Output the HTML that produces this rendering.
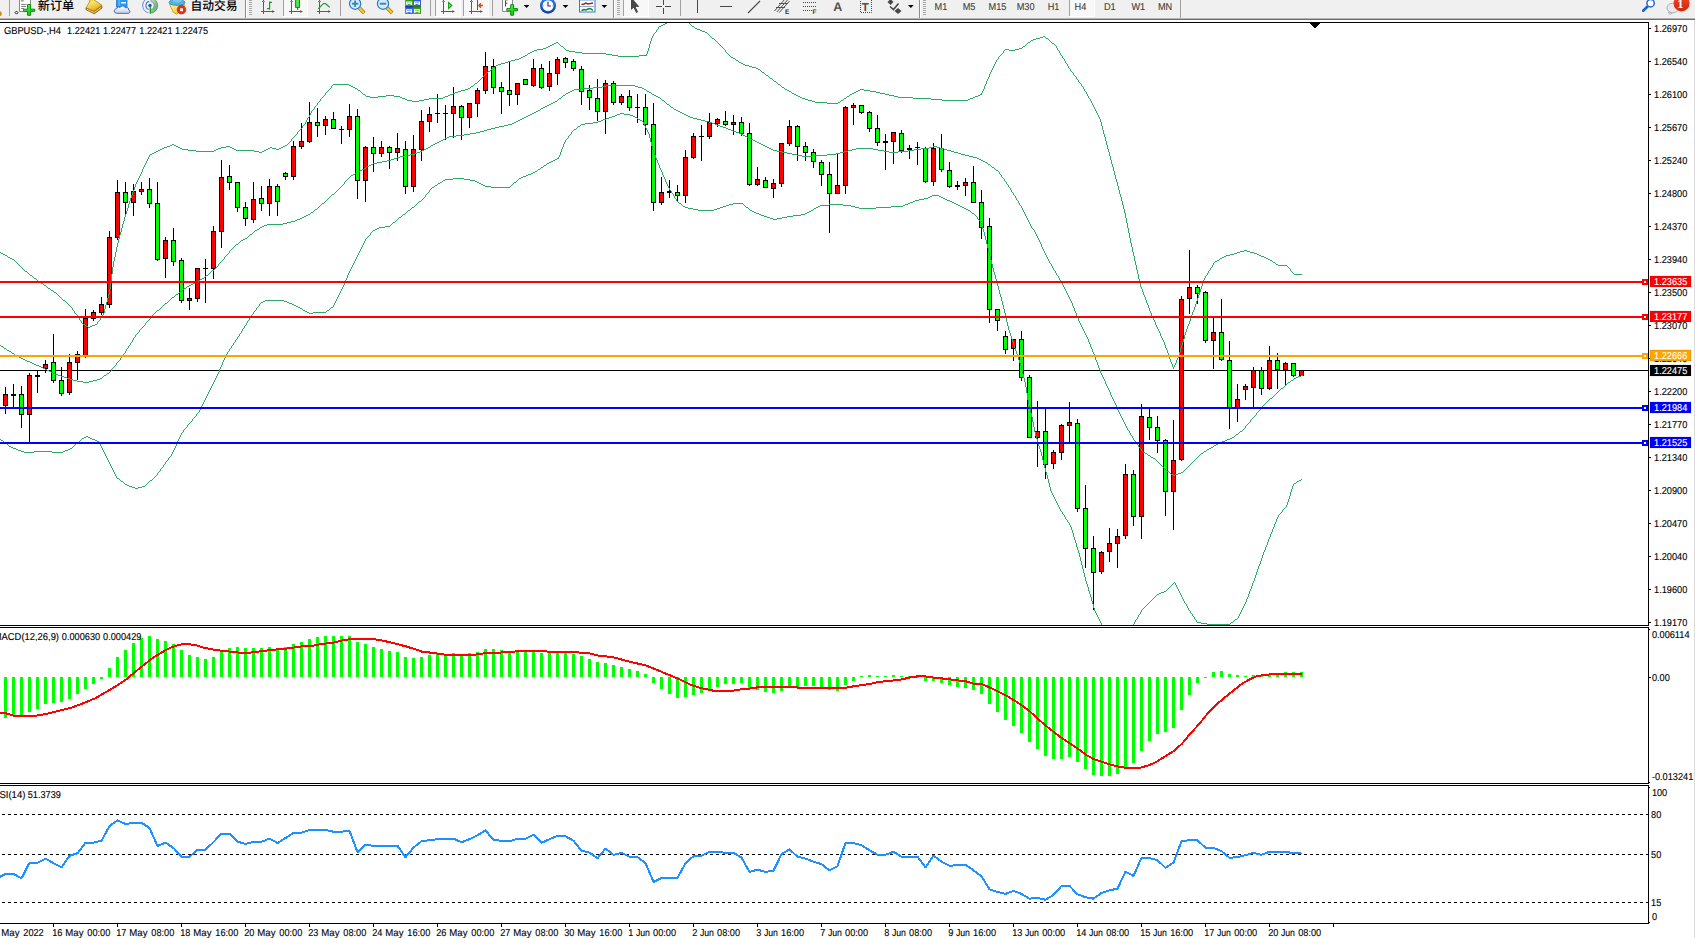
<!DOCTYPE html>
<html><head><meta charset="utf-8"><title>GBPUSD-,H4</title>
<style>
html,body{margin:0;padding:0;background:#fff;overflow:hidden}
svg{display:block;position:absolute;left:0;top:0}
text{white-space:pre;text-rendering:geometricPrecision}
</style></head>
<body>
<svg width="1695" height="938" viewBox="0 0 1695 938" shape-rendering="crispEdges">
<defs>
<clipPath id="cpMain"><rect x="0" y="23" width="1648" height="602"/></clipPath>
<clipPath id="cpMacd"><rect x="0" y="628" width="1648" height="155"/></clipPath>
<clipPath id="cpRsi"><rect x="0" y="786" width="1648" height="137"/></clipPath>
</defs>
<rect x="0" y="0" width="1695" height="938" fill="#fff"/>
<rect x="1694" y="20" width="1" height="918" fill="#dcdcdc"/>
<g clip-path="url(#cpMain)">
<rect x="0" y="370" width="1648" height="1" fill="#000"/>
<g fill="#000"><rect x="5" y="387" width="1" height="27"/><rect x="3" y="394" width="5" height="12"/><rect x="4" y="395" width="3" height="10" fill="#ff0000"/><rect x="13" y="384" width="1" height="23"/><rect x="11" y="394" width="5" height="2"/><rect x="21" y="386" width="1" height="42"/><rect x="19" y="394" width="5" height="21"/><rect x="20" y="395" width="3" height="19" fill="#00ff00"/><rect x="29" y="373" width="1" height="70"/><rect x="27" y="375" width="5" height="40"/><rect x="28" y="376" width="3" height="38" fill="#ff0000"/><rect x="37" y="370" width="1" height="23"/><rect x="35" y="375" width="5" height="2"/><rect x="45" y="360" width="1" height="13"/><rect x="43" y="364" width="5" height="5"/><rect x="44" y="365" width="3" height="3" fill="#ff0000"/><rect x="53" y="334" width="1" height="49"/><rect x="51" y="362" width="5" height="19"/><rect x="52" y="363" width="3" height="17" fill="#00ff00"/><rect x="61" y="367" width="1" height="29"/><rect x="59" y="380" width="5" height="14"/><rect x="60" y="381" width="3" height="12" fill="#00ff00"/><rect x="69" y="354" width="1" height="41"/><rect x="67" y="362" width="5" height="31"/><rect x="68" y="363" width="3" height="29" fill="#ff0000"/><rect x="77" y="351" width="1" height="29"/><rect x="75" y="354" width="5" height="9"/><rect x="76" y="355" width="3" height="7" fill="#ff0000"/><rect x="85" y="309" width="1" height="49"/><rect x="83" y="318" width="5" height="38"/><rect x="84" y="319" width="3" height="36" fill="#ff0000"/><rect x="93" y="310" width="1" height="11"/><rect x="91" y="312" width="5" height="7"/><rect x="92" y="313" width="3" height="5" fill="#ff0000"/><rect x="101" y="297" width="1" height="18"/><rect x="99" y="304" width="5" height="9"/><rect x="100" y="305" width="3" height="7" fill="#ff0000"/><rect x="109" y="231" width="1" height="77"/><rect x="107" y="237" width="5" height="68"/><rect x="108" y="238" width="3" height="66" fill="#ff0000"/><rect x="117" y="180" width="1" height="60"/><rect x="115" y="192" width="5" height="46"/><rect x="116" y="193" width="3" height="44" fill="#ff0000"/><rect x="125" y="182" width="1" height="33"/><rect x="123" y="192" width="5" height="11"/><rect x="124" y="193" width="3" height="9" fill="#00ff00"/><rect x="133" y="184" width="1" height="32"/><rect x="131" y="191" width="5" height="12"/><rect x="132" y="192" width="3" height="10" fill="#ff0000"/><rect x="141" y="182" width="1" height="13"/><rect x="139" y="189" width="5" height="3"/><rect x="140" y="190" width="3" height="1" fill="#ff0000"/><rect x="149" y="178" width="1" height="30"/><rect x="147" y="189" width="5" height="15"/><rect x="148" y="190" width="3" height="13" fill="#00ff00"/><rect x="157" y="182" width="1" height="79"/><rect x="155" y="203" width="5" height="57"/><rect x="156" y="204" width="3" height="55" fill="#00ff00"/><rect x="165" y="237" width="1" height="41"/><rect x="163" y="240" width="5" height="19"/><rect x="164" y="241" width="3" height="17" fill="#ff0000"/><rect x="173" y="228" width="1" height="38"/><rect x="171" y="240" width="5" height="22"/><rect x="172" y="241" width="3" height="20" fill="#00ff00"/><rect x="181" y="258" width="1" height="45"/><rect x="179" y="260" width="5" height="41"/><rect x="180" y="261" width="3" height="39" fill="#00ff00"/><rect x="189" y="288" width="1" height="22"/><rect x="187" y="298" width="5" height="3"/><rect x="188" y="299" width="3" height="1" fill="#ff0000"/><rect x="197" y="268" width="1" height="34"/><rect x="195" y="268" width="5" height="31"/><rect x="196" y="269" width="3" height="29" fill="#ff0000"/><rect x="205" y="259" width="1" height="44"/><rect x="203" y="268" width="5" height="1"/><rect x="213" y="226" width="1" height="53"/><rect x="211" y="231" width="5" height="38"/><rect x="212" y="232" width="3" height="36" fill="#ff0000"/><rect x="221" y="160" width="1" height="88"/><rect x="219" y="177" width="5" height="55"/><rect x="220" y="178" width="3" height="53" fill="#ff0000"/><rect x="229" y="165" width="1" height="25"/><rect x="227" y="176" width="5" height="7"/><rect x="228" y="177" width="3" height="5" fill="#00ff00"/><rect x="237" y="182" width="1" height="30"/><rect x="235" y="182" width="5" height="26"/><rect x="236" y="183" width="3" height="24" fill="#00ff00"/><rect x="245" y="202" width="1" height="24"/><rect x="243" y="207" width="5" height="12"/><rect x="244" y="208" width="3" height="10" fill="#00ff00"/><rect x="253" y="182" width="1" height="41"/><rect x="251" y="199" width="5" height="21"/><rect x="252" y="200" width="3" height="19" fill="#ff0000"/><rect x="261" y="186" width="1" height="25"/><rect x="259" y="198" width="5" height="6"/><rect x="260" y="199" width="3" height="4" fill="#00ff00"/><rect x="269" y="179" width="1" height="37"/><rect x="267" y="186" width="5" height="18"/><rect x="268" y="187" width="3" height="16" fill="#ff0000"/><rect x="277" y="184" width="1" height="32"/><rect x="275" y="186" width="5" height="16"/><rect x="276" y="187" width="3" height="14" fill="#00ff00"/><rect x="285" y="172" width="1" height="8"/><rect x="283" y="173" width="5" height="4"/><rect x="284" y="174" width="3" height="2" fill="#00ff00"/><rect x="293" y="141" width="1" height="39"/><rect x="291" y="146" width="5" height="31"/><rect x="292" y="147" width="3" height="29" fill="#ff0000"/><rect x="301" y="123" width="1" height="26"/><rect x="299" y="141" width="5" height="6"/><rect x="300" y="142" width="3" height="4" fill="#ff0000"/><rect x="309" y="102" width="1" height="41"/><rect x="307" y="122" width="5" height="20"/><rect x="308" y="123" width="3" height="18" fill="#ff0000"/><rect x="317" y="108" width="1" height="29"/><rect x="315" y="122" width="5" height="4"/><rect x="316" y="123" width="3" height="2" fill="#00ff00"/><rect x="325" y="116" width="1" height="19"/><rect x="323" y="119" width="5" height="7"/><rect x="324" y="120" width="3" height="5" fill="#ff0000"/><rect x="333" y="112" width="1" height="17"/><rect x="331" y="119" width="5" height="10"/><rect x="332" y="120" width="3" height="8" fill="#00ff00"/><rect x="341" y="126" width="1" height="18"/><rect x="339" y="129" width="5" height="1"/><rect x="349" y="104" width="1" height="33"/><rect x="347" y="116" width="5" height="14"/><rect x="348" y="117" width="3" height="12" fill="#ff0000"/><rect x="357" y="109" width="1" height="90"/><rect x="355" y="116" width="5" height="65"/><rect x="356" y="117" width="3" height="63" fill="#00ff00"/><rect x="365" y="146" width="1" height="56"/><rect x="363" y="147" width="5" height="34"/><rect x="364" y="148" width="3" height="32" fill="#ff0000"/><rect x="373" y="137" width="1" height="35"/><rect x="371" y="147" width="5" height="7"/><rect x="372" y="148" width="3" height="5" fill="#00ff00"/><rect x="381" y="141" width="1" height="16"/><rect x="379" y="147" width="5" height="7"/><rect x="380" y="148" width="3" height="5" fill="#ff0000"/><rect x="389" y="146" width="1" height="23"/><rect x="387" y="147" width="5" height="6"/><rect x="388" y="148" width="3" height="4" fill="#00ff00"/><rect x="397" y="133" width="1" height="28"/><rect x="395" y="148" width="5" height="5"/><rect x="396" y="149" width="3" height="3" fill="#ff0000"/><rect x="405" y="141" width="1" height="53"/><rect x="403" y="149" width="5" height="38"/><rect x="404" y="150" width="3" height="36" fill="#00ff00"/><rect x="413" y="135" width="1" height="57"/><rect x="411" y="149" width="5" height="38"/><rect x="412" y="150" width="3" height="36" fill="#ff0000"/><rect x="421" y="110" width="1" height="51"/><rect x="419" y="121" width="5" height="29"/><rect x="420" y="122" width="3" height="27" fill="#ff0000"/><rect x="429" y="107" width="1" height="25"/><rect x="427" y="114" width="5" height="8"/><rect x="428" y="115" width="3" height="6" fill="#ff0000"/><rect x="437" y="94" width="1" height="29"/><rect x="435" y="113" width="5" height="1"/><rect x="445" y="105" width="1" height="35"/><rect x="443" y="113" width="5" height="1"/><rect x="453" y="87" width="1" height="51"/><rect x="451" y="106" width="5" height="8"/><rect x="452" y="107" width="3" height="6" fill="#ff0000"/><rect x="461" y="105" width="1" height="35"/><rect x="459" y="106" width="5" height="12"/><rect x="460" y="107" width="3" height="10" fill="#00ff00"/><rect x="469" y="103" width="1" height="25"/><rect x="467" y="103" width="5" height="15"/><rect x="468" y="104" width="3" height="13" fill="#ff0000"/><rect x="477" y="88" width="1" height="29"/><rect x="475" y="90" width="5" height="14"/><rect x="476" y="91" width="3" height="12" fill="#ff0000"/><rect x="485" y="52" width="1" height="42"/><rect x="483" y="66" width="5" height="25"/><rect x="484" y="67" width="3" height="23" fill="#ff0000"/><rect x="493" y="59" width="1" height="35"/><rect x="491" y="66" width="5" height="22"/><rect x="492" y="67" width="3" height="20" fill="#00ff00"/><rect x="501" y="82" width="1" height="32"/><rect x="499" y="87" width="5" height="5"/><rect x="500" y="88" width="3" height="3" fill="#00ff00"/><rect x="509" y="62" width="1" height="44"/><rect x="507" y="90" width="5" height="5"/><rect x="508" y="91" width="3" height="3" fill="#00ff00"/><rect x="517" y="83" width="1" height="22"/><rect x="515" y="83" width="5" height="12"/><rect x="516" y="84" width="3" height="10" fill="#ff0000"/><rect x="525" y="79" width="1" height="6"/><rect x="523" y="79" width="5" height="6"/><rect x="524" y="80" width="3" height="4" fill="#00ff00"/><rect x="533" y="59" width="1" height="28"/><rect x="531" y="68" width="5" height="18"/><rect x="532" y="69" width="3" height="16" fill="#ff0000"/><rect x="541" y="64" width="1" height="25"/><rect x="539" y="68" width="5" height="20"/><rect x="540" y="69" width="3" height="18" fill="#00ff00"/><rect x="549" y="61" width="1" height="30"/><rect x="547" y="73" width="5" height="14"/><rect x="548" y="74" width="3" height="12" fill="#ff0000"/><rect x="557" y="57" width="1" height="28"/><rect x="555" y="59" width="5" height="15"/><rect x="556" y="60" width="3" height="13" fill="#ff0000"/><rect x="565" y="57" width="1" height="11"/><rect x="563" y="58" width="5" height="5"/><rect x="564" y="59" width="3" height="3" fill="#00ff00"/><rect x="573" y="59" width="1" height="12"/><rect x="571" y="61" width="5" height="8"/><rect x="572" y="62" width="3" height="6" fill="#00ff00"/><rect x="581" y="66" width="1" height="39"/><rect x="579" y="69" width="5" height="23"/><rect x="580" y="70" width="3" height="21" fill="#00ff00"/><rect x="589" y="85" width="1" height="25"/><rect x="587" y="90" width="5" height="8"/><rect x="588" y="91" width="3" height="6" fill="#00ff00"/><rect x="597" y="79" width="1" height="42"/><rect x="595" y="98" width="5" height="14"/><rect x="596" y="99" width="3" height="12" fill="#00ff00"/><rect x="605" y="80" width="1" height="54"/><rect x="603" y="83" width="5" height="29"/><rect x="604" y="84" width="3" height="27" fill="#ff0000"/><rect x="613" y="81" width="1" height="24"/><rect x="611" y="83" width="5" height="20"/><rect x="612" y="84" width="3" height="18" fill="#00ff00"/><rect x="621" y="94" width="1" height="11"/><rect x="619" y="96" width="5" height="7"/><rect x="620" y="97" width="3" height="5" fill="#ff0000"/><rect x="629" y="90" width="1" height="21"/><rect x="627" y="96" width="5" height="12"/><rect x="628" y="97" width="3" height="10" fill="#00ff00"/><rect x="637" y="94" width="1" height="29"/><rect x="635" y="107" width="5" height="1"/><rect x="645" y="94" width="1" height="41"/><rect x="643" y="107" width="5" height="18"/><rect x="644" y="108" width="3" height="16" fill="#00ff00"/><rect x="653" y="103" width="1" height="108"/><rect x="651" y="124" width="5" height="79"/><rect x="652" y="125" width="3" height="77" fill="#00ff00"/><rect x="661" y="177" width="1" height="28"/><rect x="659" y="192" width="5" height="11"/><rect x="660" y="193" width="3" height="9" fill="#ff0000"/><rect x="669" y="180" width="1" height="18"/><rect x="667" y="191" width="5" height="2"/><rect x="677" y="185" width="1" height="16"/><rect x="675" y="192" width="5" height="4"/><rect x="676" y="193" width="3" height="2" fill="#00ff00"/><rect x="685" y="150" width="1" height="53"/><rect x="683" y="157" width="5" height="39"/><rect x="684" y="158" width="3" height="37" fill="#ff0000"/><rect x="693" y="133" width="1" height="26"/><rect x="691" y="136" width="5" height="22"/><rect x="692" y="137" width="3" height="20" fill="#ff0000"/><rect x="701" y="125" width="1" height="36"/><rect x="699" y="136" width="5" height="1"/><rect x="709" y="113" width="1" height="26"/><rect x="707" y="122" width="5" height="15"/><rect x="708" y="123" width="3" height="13" fill="#ff0000"/><rect x="717" y="118" width="1" height="9"/><rect x="715" y="119" width="5" height="5"/><rect x="716" y="120" width="3" height="3" fill="#ff0000"/><rect x="725" y="111" width="1" height="15"/><rect x="723" y="121" width="5" height="4"/><rect x="724" y="122" width="3" height="2" fill="#00ff00"/><rect x="733" y="115" width="1" height="20"/><rect x="731" y="122" width="5" height="3"/><rect x="732" y="123" width="3" height="1" fill="#ff0000"/><rect x="741" y="117" width="1" height="19"/><rect x="739" y="122" width="5" height="12"/><rect x="740" y="123" width="3" height="10" fill="#00ff00"/><rect x="749" y="123" width="1" height="63"/><rect x="747" y="133" width="5" height="52"/><rect x="748" y="134" width="3" height="50" fill="#00ff00"/><rect x="757" y="167" width="1" height="19"/><rect x="755" y="179" width="5" height="6"/><rect x="756" y="180" width="3" height="4" fill="#ff0000"/><rect x="765" y="177" width="1" height="11"/><rect x="763" y="180" width="5" height="8"/><rect x="764" y="181" width="3" height="6" fill="#00ff00"/><rect x="773" y="179" width="1" height="19"/><rect x="771" y="183" width="5" height="6"/><rect x="772" y="184" width="3" height="4" fill="#ff0000"/><rect x="781" y="143" width="1" height="44"/><rect x="779" y="143" width="5" height="41"/><rect x="780" y="144" width="3" height="39" fill="#ff0000"/><rect x="789" y="120" width="1" height="26"/><rect x="787" y="126" width="5" height="18"/><rect x="788" y="127" width="3" height="16" fill="#ff0000"/><rect x="797" y="125" width="1" height="36"/><rect x="795" y="126" width="5" height="21"/><rect x="796" y="127" width="3" height="19" fill="#00ff00"/><rect x="805" y="142" width="1" height="19"/><rect x="803" y="146" width="5" height="7"/><rect x="804" y="147" width="3" height="5" fill="#00ff00"/><rect x="813" y="149" width="1" height="19"/><rect x="811" y="152" width="5" height="10"/><rect x="812" y="153" width="3" height="8" fill="#00ff00"/><rect x="821" y="160" width="1" height="26"/><rect x="819" y="162" width="5" height="13"/><rect x="820" y="163" width="3" height="11" fill="#00ff00"/><rect x="829" y="162" width="1" height="71"/><rect x="827" y="174" width="5" height="20"/><rect x="828" y="175" width="3" height="18" fill="#00ff00"/><rect x="837" y="154" width="1" height="40"/><rect x="835" y="185" width="5" height="9"/><rect x="836" y="186" width="3" height="7" fill="#ff0000"/><rect x="845" y="106" width="1" height="88"/><rect x="843" y="107" width="5" height="79"/><rect x="844" y="108" width="3" height="77" fill="#ff0000"/><rect x="853" y="103" width="1" height="22"/><rect x="851" y="105" width="5" height="3"/><rect x="852" y="106" width="3" height="1" fill="#ff0000"/><rect x="861" y="105" width="1" height="9"/><rect x="859" y="105" width="5" height="8"/><rect x="860" y="106" width="3" height="6" fill="#00ff00"/><rect x="869" y="111" width="1" height="21"/><rect x="867" y="112" width="5" height="17"/><rect x="868" y="113" width="3" height="15" fill="#00ff00"/><rect x="877" y="115" width="1" height="31"/><rect x="875" y="128" width="5" height="15"/><rect x="876" y="129" width="3" height="13" fill="#00ff00"/><rect x="885" y="134" width="1" height="36"/><rect x="883" y="141" width="5" height="2"/><rect x="893" y="132" width="1" height="32"/><rect x="891" y="132" width="5" height="10"/><rect x="892" y="133" width="3" height="8" fill="#ff0000"/><rect x="901" y="130" width="1" height="23"/><rect x="899" y="133" width="5" height="18"/><rect x="900" y="134" width="3" height="16" fill="#00ff00"/><rect x="909" y="145" width="1" height="14"/><rect x="907" y="148" width="5" height="2"/><rect x="917" y="142" width="1" height="23"/><rect x="915" y="147" width="5" height="1"/><rect x="925" y="147" width="1" height="36"/><rect x="923" y="148" width="5" height="34"/><rect x="924" y="149" width="3" height="32" fill="#00ff00"/><rect x="933" y="143" width="1" height="43"/><rect x="931" y="148" width="5" height="34"/><rect x="932" y="149" width="3" height="32" fill="#ff0000"/><rect x="941" y="134" width="1" height="38"/><rect x="939" y="148" width="5" height="22"/><rect x="940" y="149" width="3" height="20" fill="#00ff00"/><rect x="949" y="162" width="1" height="26"/><rect x="947" y="170" width="5" height="17"/><rect x="948" y="171" width="3" height="15" fill="#00ff00"/><rect x="957" y="181" width="1" height="9"/><rect x="955" y="185" width="5" height="2"/><rect x="965" y="178" width="1" height="18"/><rect x="963" y="182" width="5" height="4"/><rect x="964" y="183" width="3" height="2" fill="#ff0000"/><rect x="973" y="166" width="1" height="37"/><rect x="971" y="182" width="5" height="21"/><rect x="972" y="183" width="3" height="19" fill="#00ff00"/><rect x="981" y="190" width="1" height="49"/><rect x="979" y="202" width="5" height="26"/><rect x="980" y="203" width="3" height="24" fill="#00ff00"/><rect x="989" y="218" width="1" height="105"/><rect x="987" y="226" width="5" height="84"/><rect x="988" y="227" width="3" height="82" fill="#00ff00"/><rect x="997" y="309" width="1" height="22"/><rect x="995" y="309" width="5" height="12"/><rect x="996" y="310" width="3" height="10" fill="#00ff00"/><rect x="1005" y="331" width="1" height="23"/><rect x="1003" y="336" width="5" height="14"/><rect x="1004" y="337" width="3" height="12" fill="#00ff00"/><rect x="1013" y="339" width="1" height="22"/><rect x="1011" y="339" width="5" height="10"/><rect x="1012" y="340" width="3" height="8" fill="#ff0000"/><rect x="1021" y="331" width="1" height="50"/><rect x="1019" y="339" width="5" height="39"/><rect x="1020" y="340" width="3" height="37" fill="#00ff00"/><rect x="1029" y="375" width="1" height="63"/><rect x="1027" y="377" width="5" height="61"/><rect x="1028" y="378" width="3" height="59" fill="#00ff00"/><rect x="1037" y="401" width="1" height="66"/><rect x="1035" y="431" width="5" height="7"/><rect x="1036" y="432" width="3" height="5" fill="#ff0000"/><rect x="1045" y="408" width="1" height="71"/><rect x="1043" y="431" width="5" height="34"/><rect x="1044" y="432" width="3" height="32" fill="#00ff00"/><rect x="1053" y="450" width="1" height="19"/><rect x="1051" y="452" width="5" height="12"/><rect x="1052" y="453" width="3" height="10" fill="#ff0000"/><rect x="1061" y="424" width="1" height="36"/><rect x="1059" y="425" width="5" height="28"/><rect x="1060" y="426" width="3" height="26" fill="#ff0000"/><rect x="1069" y="402" width="1" height="42"/><rect x="1067" y="422" width="5" height="4"/><rect x="1068" y="423" width="3" height="2" fill="#ff0000"/><rect x="1077" y="419" width="1" height="93"/><rect x="1075" y="423" width="5" height="86"/><rect x="1076" y="424" width="3" height="84" fill="#00ff00"/><rect x="1085" y="485" width="1" height="83"/><rect x="1083" y="508" width="5" height="41"/><rect x="1084" y="509" width="3" height="39" fill="#00ff00"/><rect x="1093" y="536" width="1" height="74"/><rect x="1091" y="548" width="5" height="25"/><rect x="1092" y="549" width="3" height="23" fill="#00ff00"/><rect x="1101" y="551" width="1" height="23"/><rect x="1099" y="552" width="5" height="20"/><rect x="1100" y="553" width="3" height="18" fill="#ff0000"/><rect x="1109" y="528" width="1" height="34"/><rect x="1107" y="543" width="5" height="9"/><rect x="1108" y="544" width="3" height="7" fill="#ff0000"/><rect x="1117" y="529" width="1" height="39"/><rect x="1115" y="536" width="5" height="8"/><rect x="1116" y="537" width="3" height="6" fill="#ff0000"/><rect x="1125" y="464" width="1" height="75"/><rect x="1123" y="474" width="5" height="62"/><rect x="1124" y="475" width="3" height="60" fill="#ff0000"/><rect x="1133" y="470" width="1" height="56"/><rect x="1131" y="474" width="5" height="43"/><rect x="1132" y="475" width="3" height="41" fill="#00ff00"/><rect x="1141" y="404" width="1" height="135"/><rect x="1139" y="416" width="5" height="101"/><rect x="1140" y="417" width="3" height="99" fill="#ff0000"/><rect x="1149" y="407" width="1" height="33"/><rect x="1147" y="417" width="5" height="11"/><rect x="1148" y="418" width="3" height="9" fill="#00ff00"/><rect x="1157" y="416" width="1" height="37"/><rect x="1155" y="427" width="5" height="14"/><rect x="1156" y="428" width="3" height="12" fill="#00ff00"/><rect x="1165" y="439" width="1" height="77"/><rect x="1163" y="440" width="5" height="52"/><rect x="1164" y="441" width="3" height="50" fill="#00ff00"/><rect x="1173" y="420" width="1" height="110"/><rect x="1171" y="460" width="5" height="32"/><rect x="1172" y="461" width="3" height="30" fill="#ff0000"/><rect x="1181" y="296" width="1" height="165"/><rect x="1179" y="299" width="5" height="161"/><rect x="1180" y="300" width="3" height="159" fill="#ff0000"/><rect x="1189" y="250" width="1" height="64"/><rect x="1187" y="287" width="5" height="12"/><rect x="1188" y="288" width="3" height="10" fill="#ff0000"/><rect x="1197" y="285" width="1" height="19"/><rect x="1195" y="287" width="5" height="7"/><rect x="1196" y="288" width="3" height="5" fill="#00ff00"/><rect x="1205" y="291" width="1" height="52"/><rect x="1203" y="292" width="5" height="49"/><rect x="1204" y="293" width="3" height="47" fill="#00ff00"/><rect x="1213" y="318" width="1" height="51"/><rect x="1211" y="332" width="5" height="9"/><rect x="1212" y="333" width="3" height="7" fill="#ff0000"/><rect x="1221" y="299" width="1" height="62"/><rect x="1219" y="332" width="5" height="28"/><rect x="1220" y="333" width="3" height="26" fill="#00ff00"/><rect x="1229" y="341" width="1" height="88"/><rect x="1227" y="360" width="5" height="49"/><rect x="1228" y="361" width="3" height="47" fill="#00ff00"/><rect x="1237" y="384" width="1" height="38"/><rect x="1235" y="399" width="5" height="10"/><rect x="1236" y="400" width="3" height="8" fill="#ff0000"/><rect x="1245" y="384" width="1" height="16"/><rect x="1243" y="386" width="5" height="4"/><rect x="1244" y="387" width="3" height="2" fill="#ff0000"/><rect x="1253" y="367" width="1" height="40"/><rect x="1251" y="370" width="5" height="18"/><rect x="1252" y="371" width="3" height="16" fill="#ff0000"/><rect x="1261" y="367" width="1" height="28"/><rect x="1259" y="370" width="5" height="19"/><rect x="1260" y="371" width="3" height="17" fill="#00ff00"/><rect x="1269" y="346" width="1" height="44"/><rect x="1267" y="360" width="5" height="29"/><rect x="1268" y="361" width="3" height="27" fill="#ff0000"/><rect x="1277" y="353" width="1" height="36"/><rect x="1275" y="360" width="5" height="10"/><rect x="1276" y="361" width="3" height="8" fill="#00ff00"/><rect x="1285" y="362" width="1" height="23"/><rect x="1283" y="363" width="5" height="7"/><rect x="1284" y="364" width="3" height="5" fill="#ff0000"/><rect x="1293" y="363" width="1" height="14"/><rect x="1291" y="363" width="5" height="13"/><rect x="1292" y="364" width="3" height="11" fill="#00ff00"/><rect x="1301" y="370" width="1" height="6"/><rect x="1299" y="370" width="5" height="6"/><rect x="1300" y="371" width="3" height="4" fill="#ff0000"/></g>
<path d="M0 252h1v1h-1zM1 253h2v1h-2zM3 254h2v1h-2zM5 255h2v1h-2zM7 256h1v1h-1zM8 257h2v1h-2zM10 258h2v1h-2zM12 259h2v1h-2zM14 260h1v1h-1zM15 261h1v1h-1zM16 262h1v1h-1zM17 263h1v1h-1zM18 264h1v1h-1zM19 265h1v1h-1zM20 266h1v1h-1zM21 267h1v1h-1zM22 268h1v1h-1zM23 269h1v1h-1zM24 270h1v1h-1zM25 271h2v1h-2zM27 272h1v1h-1zM28 273h1v1h-1zM29 274h1v1h-1zM30 275h2v1h-2zM32 276h1v1h-1zM33 277h1v1h-1zM34 278h2v1h-2zM36 279h1v1h-1zM37 280h1v1h-1zM38 281h2v1h-2zM40 282h1v1h-1zM41 283h2v1h-2zM43 284h1v1h-1zM44 285h2v1h-2zM46 286h1v1h-1zM47 287h1v1h-1zM48 288h2v1h-2zM50 289h1v1h-1zM51 290h2v1h-2zM53 291h1v1h-1zM54 292h2v1h-2zM56 293h1v1h-1zM57 294h1v1h-1zM58 295h1v1h-1zM59 296h1v1h-1zM60 297h1v1h-1zM61 298h1v1h-1zM62 299h1v1h-1zM63 300h2v1h-2zM65 301h1v1h-1zM66 302h1v1h-1zM67 303h1v1h-1zM68 304h1v1h-1zM69 305h1v1h-1zM70 306h1v1h-1zM71 307h1v1h-1zM72 308h1v2h-1zM73 310h1v1h-1zM74 311h1v2h-1zM75 313h1v1h-1zM76 314h1v1h-1zM77 315h1v2h-1zM78 317h1v1h-1zM79 318h1v2h-1zM80 320h1v1h-1zM81 321h1v2h-1zM82 323h1v1h-1zM83 324h2v1h-2zM85 325h1v1h-1zM86 326h2v1h-2zM88 327h2v1h-2zM90 326h2v1h-2zM92 325h3v1h-3zM95 324h2v1h-2zM97 322h1v2h-1zM98 321h1v1h-1zM99 320h1v1h-1zM100 318h1v2h-1zM101 317h1v1h-1zM102 315h1v2h-1zM103 313h1v2h-1zM104 309h1v4h-1zM105 305h1v4h-1zM106 302h1v3h-1zM107 298h1v4h-1zM108 294h1v4h-1zM109 289h1v5h-1zM110 282h1v7h-1zM111 274h1v8h-1zM112 267h1v7h-1zM113 261h1v6h-1zM114 257h1v4h-1zM115 252h1v5h-1zM116 247h1v5h-1zM117 243h1v4h-1zM118 239h1v4h-1zM119 235h1v4h-1zM120 232h1v3h-1zM121 228h1v4h-1zM122 224h1v4h-1zM123 221h1v3h-1zM124 217h1v4h-1zM125 214h1v3h-1zM126 211h1v3h-1zM127 208h1v3h-1zM128 204h1v4h-1zM129 201h1v3h-1zM130 198h1v3h-1zM131 195h1v3h-1zM132 192h1v3h-1zM133 190h1v2h-1zM134 187h1v3h-1zM135 184h1v3h-1zM136 182h1v2h-1zM137 180h1v2h-1zM138 178h1v2h-1zM139 176h1v2h-1zM140 174h1v2h-1zM141 172h1v2h-1zM142 169h1v3h-1zM143 167h1v2h-1zM144 165h1v2h-1zM145 163h1v2h-1zM146 161h1v2h-1zM147 159h1v2h-1zM148 157h1v2h-1zM149 155h1v2h-1zM150 154h2v1h-2zM152 153h2v1h-2zM154 152h2v1h-2zM156 151h2v1h-2zM158 150h2v1h-2zM160 149h2v1h-2zM162 148h2v1h-2zM164 147h3v1h-3zM167 146h3v1h-3zM170 145h2v1h-2zM172 144h2v1h-2zM174 145h2v1h-2zM176 146h2v1h-2zM178 147h2v1h-2zM180 148h2v1h-2zM182 149h6v1h-6zM188 150h8v1h-8zM196 151h18v1h-18zM214 150h2v1h-2zM216 149h2v1h-2zM218 148h3v1h-3zM221 147h5v1h-5zM226 146h4v1h-4zM230 147h2v1h-2zM232 148h2v1h-2zM234 149h2v1h-2zM236 150h18v1h-18zM254 151h5v1h-5zM259 152h3v1h-3zM262 151h2v1h-2zM264 150h2v1h-2zM266 149h2v1h-2zM268 148h2v1h-2zM270 147h2v1h-2zM272 148h4v1h-4zM276 149h3v1h-3zM279 148h2v1h-2zM281 147h2v1h-2zM283 146h2v1h-2zM285 145h2v1h-2zM287 144h1v1h-1zM288 143h1v1h-1zM289 142h1v1h-1zM290 141h1v1h-1zM291 139h1v2h-1zM292 138h1v1h-1zM293 137h1v1h-1zM294 136h1v1h-1zM295 135h1v1h-1zM296 134h1v1h-1zM297 132h1v2h-1zM298 131h1v1h-1zM299 130h1v1h-1zM300 129h1v1h-1zM301 128h1v1h-1zM302 126h1v2h-1zM303 125h1v1h-1zM304 124h1v1h-1zM305 122h1v2h-1zM306 120h1v2h-1zM307 118h1v2h-1zM308 117h1v1h-1zM309 115h1v2h-1zM310 113h1v2h-1zM311 111h1v2h-1zM312 110h1v1h-1zM313 109h1v1h-1zM314 107h1v2h-1zM315 106h1v1h-1zM316 105h1v1h-1zM317 103h1v2h-1zM318 102h1v1h-1zM319 101h1v1h-1zM320 99h1v2h-1zM321 98h1v1h-1zM322 97h1v1h-1zM323 96h1v1h-1zM324 95h1v1h-1zM325 93h1v2h-1zM326 92h1v1h-1zM327 91h1v1h-1zM328 90h1v1h-1zM329 89h1v1h-1zM330 88h1v1h-1zM331 86h1v2h-1zM332 85h1v1h-1zM333 84h16v1h-16zM349 85h2v1h-2zM351 86h2v1h-2zM353 87h2v1h-2zM355 88h2v1h-2zM357 89h1v1h-1zM358 90h2v1h-2zM360 91h1v1h-1zM361 92h1v1h-1zM362 93h1v1h-1zM363 94h2v1h-2zM365 95h1v1h-1zM366 96h4v1h-4zM370 97h8v1h-8zM378 96h8v1h-8zM386 95h8v1h-8zM394 96h6v1h-6zM400 97h2v1h-2zM402 98h3v1h-3zM405 99h2v1h-2zM407 100h5v1h-5zM412 101h7v1h-7zM419 100h5v1h-5zM424 99h5v1h-5zM429 98h14v1h-14zM443 97h2v1h-2zM445 96h3v1h-3zM448 95h2v1h-2zM450 94h3v1h-3zM453 93h2v1h-2zM455 92h3v1h-3zM458 91h3v1h-3zM461 90h4v1h-4zM465 89h3v1h-3zM468 88h2v1h-2zM470 87h1v1h-1zM471 86h2v1h-2zM473 85h1v1h-1zM474 84h1v1h-1zM475 83h2v1h-2zM477 82h1v1h-1zM478 81h1v1h-1zM479 80h1v1h-1zM480 79h1v1h-1zM481 78h1v1h-1zM482 77h1v1h-1zM483 76h1v1h-1zM484 75h1v1h-1zM485 74h1v1h-1zM486 73h1v1h-1zM487 72h1v1h-1zM488 71h2v1h-2zM490 70h1v1h-1zM491 69h1v1h-1zM492 68h1v1h-1zM493 67h2v1h-2zM495 66h1v1h-1zM496 65h2v1h-2zM498 64h3v1h-3zM501 63h4v1h-4zM505 62h3v1h-3zM508 61h3v1h-3zM511 60h4v1h-4zM515 59h4v1h-4zM519 58h2v1h-2zM521 57h2v1h-2zM523 56h2v1h-2zM525 55h2v1h-2zM527 54h1v1h-1zM528 53h2v1h-2zM530 52h2v1h-2zM532 51h2v1h-2zM534 50h3v1h-3zM537 49h6v1h-6zM543 48h3v1h-3zM546 47h2v1h-2zM548 46h2v1h-2zM550 45h2v1h-2zM552 44h2v1h-2zM554 43h2v1h-2zM556 42h2v1h-2zM558 43h1v1h-1zM559 44h1v1h-1zM560 45h1v1h-1zM561 46h2v1h-2zM563 47h1v1h-1zM564 48h1v1h-1zM565 49h1v1h-1zM566 50h3v1h-3zM569 51h6v1h-6zM575 52h7v1h-7zM582 53h24v1h-24zM606 54h6v1h-6zM612 55h6v1h-6zM618 56h21v1h-21zM639 55h8v1h-8zM646 54h1v1h-1zM647 51h1v3h-1zM648 48h1v3h-1zM649 44h1v4h-1zM650 41h1v3h-1zM651 38h1v3h-1zM652 36h1v2h-1zM653 34h1v2h-1zM654 33h1v1h-1zM655 32h1v1h-1zM656 30h1v2h-1zM657 29h1v1h-1zM658 27h1v2h-1zM659 26h2v1h-2zM661 25h2v1h-2zM663 24h2v1h-2zM665 23h2v1h-2zM667 22h2v1h-2zM669 21h1v1h-1zM670 20h2v1h-2zM672 19h12v1h-12zM684 20h2v1h-2zM686 21h1v1h-1zM687 22h2v1h-2zM689 23h1v1h-1zM690 24h1v1h-1zM691 25h1v1h-1zM692 26h2v1h-2zM694 27h1v1h-1zM695 28h2v1h-2zM697 29h3v1h-3zM700 30h2v1h-2zM702 31h3v1h-3zM705 32h2v1h-2zM707 33h1v1h-1zM708 34h1v1h-1zM709 35h1v1h-1zM710 36h1v1h-1zM711 37h1v1h-1zM712 38h2v1h-2zM714 39h1v1h-1zM715 40h1v1h-1zM716 41h1v1h-1zM717 42h1v1h-1zM718 43h1v1h-1zM719 44h1v1h-1zM720 45h1v1h-1zM721 46h1v1h-1zM722 47h1v1h-1zM723 48h1v1h-1zM724 49h1v1h-1zM725 50h1v2h-1zM726 52h1v1h-1zM727 53h1v1h-1zM728 54h1v1h-1zM729 55h1v1h-1zM730 56h1v1h-1zM731 57h2v1h-2zM733 58h2v1h-2zM735 59h1v1h-1zM736 60h2v1h-2zM738 61h1v1h-1zM739 62h2v1h-2zM741 63h2v1h-2zM743 64h2v1h-2zM745 65h4v1h-4zM749 66h3v1h-3zM752 67h4v1h-4zM756 68h2v1h-2zM758 69h2v1h-2zM760 70h1v1h-1zM761 71h1v1h-1zM762 72h2v1h-2zM764 73h1v1h-1zM765 74h1v1h-1zM766 75h2v1h-2zM768 76h1v1h-1zM769 77h1v1h-1zM770 78h2v1h-2zM772 79h1v1h-1zM773 80h1v1h-1zM774 81h2v1h-2zM776 82h1v1h-1zM777 83h1v1h-1zM778 84h2v1h-2zM780 85h1v1h-1zM781 86h1v1h-1zM782 87h2v1h-2zM784 88h1v1h-1zM785 89h2v1h-2zM787 90h2v1h-2zM789 91h2v1h-2zM791 92h1v1h-1zM792 93h2v1h-2zM794 94h2v1h-2zM796 95h2v1h-2zM798 96h2v1h-2zM800 97h2v1h-2zM802 98h3v1h-3zM805 99h3v1h-3zM808 100h4v1h-4zM812 101h3v1h-3zM815 102h12v1h-12zM827 103h11v1h-11zM838 102h2v1h-2zM840 101h1v1h-1zM841 100h2v1h-2zM843 99h1v1h-1zM844 98h2v1h-2zM846 97h1v1h-1zM847 96h2v1h-2zM849 95h1v1h-1zM850 94h2v1h-2zM852 93h2v1h-2zM854 92h2v1h-2zM856 91h2v1h-2zM858 90h2v1h-2zM860 89h4v1h-4zM864 90h6v1h-6zM870 91h6v1h-6zM876 92h4v1h-4zM880 93h5v1h-5zM885 94h4v1h-4zM889 95h5v1h-5zM894 96h4v1h-4zM898 97h15v1h-15zM913 98h18v1h-18zM931 99h11v1h-11zM942 100h26v1h-26zM968 99h2v1h-2zM970 98h3v1h-3zM973 97h2v1h-2zM975 96h3v1h-3zM978 95h2v1h-2zM980 94h2v1h-2zM981 93h1v1h-1zM982 91h1v2h-1zM983 89h1v2h-1zM984 86h1v3h-1zM985 84h1v2h-1zM986 81h1v3h-1zM987 79h1v2h-1zM988 77h1v2h-1zM989 74h1v3h-1zM990 72h1v2h-1zM991 70h1v2h-1zM992 68h1v2h-1zM993 66h1v2h-1zM994 64h1v2h-1zM995 62h1v2h-1zM996 60h1v2h-1zM997 59h1v1h-1zM998 57h1v2h-1zM999 56h1v1h-1zM1000 55h1v1h-1zM1001 54h1v1h-1zM1002 53h1v1h-1zM1003 51h1v2h-1zM1004 50h1v1h-1zM1005 49h4v1h-4zM1009 50h6v1h-6zM1015 49h4v1h-4zM1019 48h3v1h-3zM1022 47h1v1h-1zM1023 46h2v1h-2zM1025 45h1v1h-1zM1026 44h1v1h-1zM1027 43h1v1h-1zM1028 42h2v1h-2zM1030 41h1v1h-1zM1031 40h2v1h-2zM1033 39h3v1h-3zM1036 38h4v1h-4zM1040 37h3v1h-3zM1043 36h2v1h-2zM1045 37h1v1h-1zM1046 38h2v1h-2zM1048 39h1v1h-1zM1049 40h1v1h-1zM1050 41h1v1h-1zM1051 42h1v1h-1zM1052 43h2v1h-2zM1054 44h1v1h-1zM1055 45h1v1h-1zM1056 46h1v2h-1zM1057 48h1v2h-1zM1058 50h1v1h-1zM1059 51h1v2h-1zM1060 53h1v2h-1zM1061 55h1v1h-1zM1062 56h1v2h-1zM1063 58h1v1h-1zM1064 59h1v2h-1zM1065 61h1v2h-1zM1066 63h1v1h-1zM1067 64h1v2h-1zM1068 66h1v2h-1zM1069 68h1v1h-1zM1070 69h1v2h-1zM1071 71h1v1h-1zM1072 72h1v1h-1zM1073 73h1v2h-1zM1074 75h1v1h-1zM1075 76h1v1h-1zM1076 77h1v2h-1zM1077 79h1v1h-1zM1078 80h1v2h-1zM1079 82h1v1h-1zM1080 83h1v1h-1zM1081 84h1v2h-1zM1082 86h1v1h-1zM1083 87h1v2h-1zM1084 89h1v2h-1zM1085 91h1v1h-1zM1086 92h1v2h-1zM1087 94h1v2h-1zM1088 96h1v2h-1zM1089 98h1v1h-1zM1090 99h1v2h-1zM1091 101h1v2h-1zM1092 103h1v2h-1zM1093 105h1v2h-1zM1094 107h1v2h-1zM1095 109h1v2h-1zM1096 111h1v2h-1zM1097 113h1v2h-1zM1098 115h1v2h-1zM1099 117h1v2h-1zM1100 119h1v3h-1zM1101 122h1v4h-1zM1102 126h1v4h-1zM1103 130h1v4h-1zM1104 134h1v3h-1zM1105 137h1v4h-1zM1106 141h1v4h-1zM1107 145h1v4h-1zM1108 149h1v3h-1zM1109 152h1v4h-1zM1110 156h1v4h-1zM1111 160h1v4h-1zM1112 164h1v3h-1zM1113 167h1v4h-1zM1114 171h1v4h-1zM1115 175h1v4h-1zM1116 179h1v3h-1zM1117 182h1v4h-1zM1118 186h1v4h-1zM1119 190h1v4h-1zM1120 194h1v3h-1zM1121 197h1v4h-1zM1122 201h1v4h-1zM1123 205h1v4h-1zM1124 209h1v4h-1zM1125 213h1v5h-1zM1126 218h1v5h-1zM1127 223h1v5h-1zM1128 228h1v5h-1zM1129 233h1v5h-1zM1130 238h1v5h-1zM1131 243h1v4h-1zM1132 247h1v5h-1zM1133 252h1v4h-1zM1134 256h1v5h-1zM1135 261h1v4h-1zM1136 265h1v5h-1zM1137 270h1v4h-1zM1138 274h1v5h-1zM1139 279h1v4h-1zM1140 283h1v4h-1zM1141 287h1v2h-1zM1142 289h1v3h-1zM1143 292h1v3h-1zM1144 295h1v2h-1zM1145 297h1v3h-1zM1146 300h1v3h-1zM1147 303h1v2h-1zM1148 305h1v3h-1zM1149 308h1v3h-1zM1150 311h1v2h-1zM1151 313h1v3h-1zM1152 316h1v2h-1zM1153 318h1v2h-1zM1154 320h1v2h-1zM1155 322h1v3h-1zM1156 325h1v2h-1zM1157 327h1v2h-1zM1158 329h1v2h-1zM1159 331h1v2h-1zM1160 333h1v3h-1zM1161 336h1v2h-1zM1162 338h1v2h-1zM1163 340h1v2h-1zM1164 342h1v3h-1zM1165 345h1v3h-1zM1166 348h1v2h-1zM1167 350h1v3h-1zM1168 353h1v3h-1zM1169 356h1v3h-1zM1170 359h1v3h-1zM1171 362h1v2h-1zM1172 364h1v3h-1zM1173 367h1v2h-1zM1174 365h1v2h-1zM1175 363h1v2h-1zM1176 360h1v3h-1zM1177 358h1v2h-1zM1178 355h1v3h-1zM1179 352h1v3h-1zM1180 348h1v4h-1zM1181 345h1v3h-1zM1182 342h1v3h-1zM1183 339h1v3h-1zM1184 335h1v4h-1zM1185 332h1v3h-1zM1186 329h1v3h-1zM1187 326h1v3h-1zM1188 324h1v2h-1zM1189 321h1v3h-1zM1190 318h1v3h-1zM1191 315h1v3h-1zM1192 312h1v3h-1zM1193 310h1v2h-1zM1194 307h1v3h-1zM1195 304h1v3h-1zM1196 301h1v3h-1zM1197 298h1v3h-1zM1198 295h1v3h-1zM1199 292h1v3h-1zM1200 289h1v3h-1zM1201 286h1v3h-1zM1202 283h1v3h-1zM1203 280h1v3h-1zM1204 278h1v2h-1zM1205 276h1v2h-1zM1206 275h1v1h-1zM1207 273h1v2h-1zM1208 271h1v2h-1zM1209 270h1v1h-1zM1210 268h1v2h-1zM1211 267h1v1h-1zM1212 265h1v2h-1zM1213 263h1v2h-1zM1214 262h1v1h-1zM1215 261h2v1h-2zM1217 260h2v1h-2zM1219 259h1v1h-1zM1220 258h2v1h-2zM1222 257h2v1h-2zM1224 256h2v1h-2zM1226 255h4v1h-4zM1230 254h4v1h-4zM1234 253h3v1h-3zM1237 252h3v1h-3zM1240 251h4v1h-4zM1244 250h3v1h-3zM1247 251h3v1h-3zM1250 252h4v1h-4zM1254 253h3v1h-3zM1257 254h2v1h-2zM1259 255h2v1h-2zM1261 256h3v1h-3zM1264 257h2v1h-2zM1266 258h2v1h-2zM1268 259h2v1h-2zM1270 260h2v1h-2zM1272 261h1v1h-1zM1273 262h2v1h-2zM1275 263h1v1h-1zM1276 264h2v1h-2zM1278 265h9v1h-9zM1287 266h1v1h-1zM1288 267h1v1h-1zM1289 268h1v1h-1zM1290 269h1v2h-1zM1291 271h1v1h-1zM1292 272h1v1h-1zM1293 273h1v1h-1zM1294 274h8v1h-8z" fill="#2aaa62"/>
<path d="M0 345h1v1h-1zM1 346h2v1h-2zM3 347h1v1h-1zM4 348h2v1h-2zM6 349h1v1h-1zM7 350h2v1h-2zM9 351h2v1h-2zM11 352h1v1h-1zM12 353h2v1h-2zM14 354h1v1h-1zM15 355h2v1h-2zM17 356h2v1h-2zM19 357h2v1h-2zM21 358h2v1h-2zM23 359h2v1h-2zM25 360h2v1h-2zM27 361h3v1h-3zM30 362h2v1h-2zM32 363h2v1h-2zM34 364h2v1h-2zM36 365h3v1h-3zM39 366h2v1h-2zM41 367h2v1h-2zM43 368h2v1h-2zM45 369h2v1h-2zM47 370h2v1h-2zM49 371h2v1h-2zM51 372h2v1h-2zM53 373h2v1h-2zM55 374h3v1h-3zM58 375h3v1h-3zM61 376h3v1h-3zM64 377h3v1h-3zM67 378h3v1h-3zM70 379h3v1h-3zM73 380h4v1h-4zM77 381h6v1h-6zM83 382h6v1h-6zM89 381h4v1h-4zM93 380h4v1h-4zM97 379h3v1h-3zM100 378h2v1h-2zM102 377h1v1h-1zM103 376h1v1h-1zM104 375h2v1h-2zM106 374h1v1h-1zM107 373h2v1h-2zM109 372h1v1h-1zM110 371h1v1h-1zM111 369h1v2h-1zM112 368h1v1h-1zM113 367h1v1h-1zM114 366h1v1h-1zM115 365h1v1h-1zM116 363h1v2h-1zM117 362h1v1h-1zM118 361h1v1h-1zM119 360h1v1h-1zM120 358h1v2h-1zM121 357h1v1h-1zM122 356h1v1h-1zM123 354h1v2h-1zM124 353h1v1h-1zM125 351h1v2h-1zM126 349h1v2h-1zM127 348h1v1h-1zM128 346h1v2h-1zM129 345h1v1h-1zM130 343h1v2h-1zM131 342h1v1h-1zM132 340h1v2h-1zM133 338h1v2h-1zM134 337h1v1h-1zM135 335h1v2h-1zM136 334h1v1h-1zM137 333h1v1h-1zM138 332h1v1h-1zM139 330h1v2h-1zM140 329h1v1h-1zM141 328h1v1h-1zM142 327h1v1h-1zM143 326h1v1h-1zM144 325h1v1h-1zM145 323h1v2h-1zM146 322h1v1h-1zM147 321h1v1h-1zM148 320h1v1h-1zM149 319h1v1h-1zM150 317h1v2h-1zM151 316h1v1h-1zM152 315h1v1h-1zM153 314h1v1h-1zM154 313h1v1h-1zM155 312h1v1h-1zM156 311h1v1h-1zM157 310h2v1h-2zM159 309h1v1h-1zM160 308h1v1h-1zM161 307h1v1h-1zM162 306h1v1h-1zM163 305h1v1h-1zM164 304h1v1h-1zM165 303h2v1h-2zM167 302h1v1h-1zM168 301h1v1h-1zM169 300h1v1h-1zM170 299h1v1h-1zM171 298h1v1h-1zM172 297h2v1h-2zM174 296h1v1h-1zM175 295h1v1h-1zM176 294h2v1h-2zM178 293h1v1h-1zM179 292h1v1h-1zM180 291h2v1h-2zM182 290h1v1h-1zM183 289h1v1h-1zM184 288h2v1h-2zM186 287h1v1h-1zM187 286h2v1h-2zM189 285h2v1h-2zM191 284h2v1h-2zM193 283h2v1h-2zM195 282h1v1h-1zM196 281h2v1h-2zM198 280h2v1h-2zM200 279h2v1h-2zM202 278h2v1h-2zM204 277h1v1h-1zM205 276h1v1h-1zM206 275h2v1h-2zM208 274h1v1h-1zM209 273h1v1h-1zM210 272h1v1h-1zM211 271h1v1h-1zM212 270h2v1h-2zM214 269h1v1h-1zM215 268h1v1h-1zM216 267h1v1h-1zM217 266h1v1h-1zM218 264h1v2h-1zM219 263h1v1h-1zM220 262h1v1h-1zM221 261h1v1h-1zM222 260h1v1h-1zM223 259h1v1h-1zM224 257h1v2h-1zM225 256h1v1h-1zM226 255h1v1h-1zM227 254h1v1h-1zM228 253h1v1h-1zM229 251h1v2h-1zM230 250h1v1h-1zM231 249h1v1h-1zM232 248h1v1h-1zM233 247h1v1h-1zM234 246h1v1h-1zM235 245h1v1h-1zM236 244h2v1h-2zM238 243h1v1h-1zM239 242h1v1h-1zM240 241h1v1h-1zM241 240h2v1h-2zM243 239h2v1h-2zM245 238h2v1h-2zM247 237h1v1h-1zM248 236h1v1h-1zM249 235h1v1h-1zM250 234h2v1h-2zM252 233h1v1h-1zM253 232h1v1h-1zM254 231h1v1h-1zM255 230h2v1h-2zM257 229h2v1h-2zM259 228h1v1h-1zM260 227h2v1h-2zM262 226h2v1h-2zM264 225h3v1h-3zM267 224h16v1h-16zM283 223h4v1h-4zM287 222h4v1h-4zM291 221h4v1h-4zM295 220h2v1h-2zM297 219h3v1h-3zM300 218h2v1h-2zM302 217h2v1h-2zM304 216h2v1h-2zM306 215h2v1h-2zM308 214h2v1h-2zM310 213h1v1h-1zM311 212h2v1h-2zM313 211h1v1h-1zM314 210h1v1h-1zM315 209h2v1h-2zM317 208h1v1h-1zM318 207h1v1h-1zM319 206h1v1h-1zM320 205h1v1h-1zM321 204h1v1h-1zM322 203h2v1h-2zM324 202h1v1h-1zM325 201h1v1h-1zM326 200h1v1h-1zM327 199h1v1h-1zM328 198h1v1h-1zM329 197h1v1h-1zM330 196h1v1h-1zM331 195h1v1h-1zM332 194h2v1h-2zM334 193h1v1h-1zM335 192h1v1h-1zM336 191h1v1h-1zM337 190h1v1h-1zM338 189h1v1h-1zM339 188h1v1h-1zM340 187h1v1h-1zM341 186h1v1h-1zM342 185h1v1h-1zM343 184h1v1h-1zM344 182h1v2h-1zM345 181h1v1h-1zM346 180h1v1h-1zM347 179h1v1h-1zM348 178h1v1h-1zM349 177h1v1h-1zM350 176h1v1h-1zM351 175h2v1h-2zM353 174h2v1h-2zM355 173h2v1h-2zM357 172h1v1h-1zM358 171h2v1h-2zM360 170h2v1h-2zM362 169h2v1h-2zM364 168h2v1h-2zM366 167h1v1h-1zM367 166h2v1h-2zM369 165h2v1h-2zM371 164h2v1h-2zM373 163h4v1h-4zM377 162h5v1h-5zM382 161h5v1h-5zM387 160h4v1h-4zM391 159h3v1h-3zM394 158h3v1h-3zM397 157h3v1h-3zM400 156h4v1h-4zM404 155h6v1h-6zM410 154h5v1h-5zM415 153h2v1h-2zM417 152h3v1h-3zM420 151h2v1h-2zM422 150h2v1h-2zM424 149h2v1h-2zM426 148h2v1h-2zM428 147h2v1h-2zM430 146h1v1h-1zM431 145h2v1h-2zM433 144h2v1h-2zM435 143h2v1h-2zM437 142h2v1h-2zM439 141h2v1h-2zM441 140h2v1h-2zM443 139h2v1h-2zM445 138h2v1h-2zM447 137h2v1h-2zM449 136h7v1h-7zM456 135h8v1h-8zM464 134h6v1h-6zM470 133h6v1h-6zM476 132h4v1h-4zM480 131h4v1h-4zM484 130h3v1h-3zM487 129h4v1h-4zM491 128h4v1h-4zM495 127h4v1h-4zM499 126h5v1h-5zM504 125h4v1h-4zM508 124h4v1h-4zM512 123h2v1h-2zM514 122h2v1h-2zM516 121h2v1h-2zM518 120h2v1h-2zM520 119h2v1h-2zM522 118h2v1h-2zM524 117h2v1h-2zM526 116h2v1h-2zM528 115h2v1h-2zM530 114h2v1h-2zM532 113h2v1h-2zM534 112h2v1h-2zM536 111h2v1h-2zM538 110h2v1h-2zM540 109h1v1h-1zM541 108h2v1h-2zM543 107h2v1h-2zM545 106h2v1h-2zM547 105h2v1h-2zM549 104h2v1h-2zM551 103h2v1h-2zM553 102h2v1h-2zM555 101h2v1h-2zM557 100h1v1h-1zM558 99h1v1h-1zM559 98h2v1h-2zM561 97h1v1h-1zM562 96h1v1h-1zM563 95h2v1h-2zM565 94h1v1h-1zM566 93h2v1h-2zM568 92h2v1h-2zM570 91h2v1h-2zM572 90h2v1h-2zM574 89h7v1h-7zM581 88h12v1h-12zM593 87h9v1h-9zM602 86h4v1h-4zM606 85h29v1h-29zM635 86h3v1h-3zM638 87h4v1h-4zM642 88h2v1h-2zM644 89h2v1h-2zM646 90h1v1h-1zM647 91h2v1h-2zM649 92h2v1h-2zM651 93h1v1h-1zM652 94h2v1h-2zM654 95h2v1h-2zM656 96h2v1h-2zM658 97h2v1h-2zM660 98h1v1h-1zM661 99h1v1h-1zM662 100h2v1h-2zM664 101h1v1h-1zM665 102h1v1h-1zM666 103h1v1h-1zM667 104h2v1h-2zM669 105h1v1h-1zM670 106h1v1h-1zM671 107h2v1h-2zM673 108h1v1h-1zM674 109h2v1h-2zM676 110h2v1h-2zM678 111h2v1h-2zM680 112h2v1h-2zM682 113h2v1h-2zM684 114h2v1h-2zM686 115h2v1h-2zM688 116h2v1h-2zM690 117h3v1h-3zM693 118h4v1h-4zM697 119h4v1h-4zM701 120h4v1h-4zM705 121h4v1h-4zM709 122h3v1h-3zM712 123h3v1h-3zM715 124h2v1h-2zM717 125h3v1h-3zM720 126h3v1h-3zM723 127h3v1h-3zM726 128h2v1h-2zM728 129h3v1h-3zM731 130h2v1h-2zM733 131h3v1h-3zM736 132h3v1h-3zM739 133h2v1h-2zM741 134h2v1h-2zM743 135h2v1h-2zM745 136h2v1h-2zM747 137h2v1h-2zM749 138h2v1h-2zM751 139h2v1h-2zM753 140h2v1h-2zM755 141h2v1h-2zM757 142h2v1h-2zM759 143h2v1h-2zM761 144h2v1h-2zM763 145h2v1h-2zM765 146h2v1h-2zM767 147h2v1h-2zM769 148h2v1h-2zM771 149h2v1h-2zM773 150h4v1h-4zM777 151h5v1h-5zM782 152h5v1h-5zM787 153h5v1h-5zM792 154h5v1h-5zM797 155h5v1h-5zM802 156h10v1h-10zM812 155h15v1h-15zM827 154h9v1h-9zM836 153h4v1h-4zM840 152h4v1h-4zM844 151h4v1h-4zM848 150h4v1h-4zM852 149h4v1h-4zM856 148h17v1h-17zM873 149h5v1h-5zM878 150h6v1h-6zM884 151h5v1h-5zM889 152h9v1h-9zM898 151h10v1h-10zM908 150h6v1h-6zM914 149h7v1h-7zM921 148h8v1h-8zM929 147h4v1h-4zM933 146h4v1h-4zM937 147h3v1h-3zM940 148h4v1h-4zM944 149h3v1h-3zM947 150h4v1h-4zM951 151h3v1h-3zM954 152h4v1h-4zM958 153h3v1h-3zM961 154h4v1h-4zM965 155h4v1h-4zM969 156h4v1h-4zM973 157h4v1h-4zM977 158h2v1h-2zM979 159h2v1h-2zM981 160h2v1h-2zM983 161h2v1h-2zM985 162h2v1h-2zM987 163h1v1h-1zM988 164h2v1h-2zM990 165h1v1h-1zM991 166h1v1h-1zM992 167h2v1h-2zM994 168h1v1h-1zM995 169h1v1h-1zM996 170h2v1h-2zM998 171h1v1h-1zM999 172h1v2h-1zM1000 174h1v1h-1zM1001 175h1v2h-1zM1002 177h1v1h-1zM1003 178h1v1h-1zM1004 179h1v2h-1zM1005 181h1v1h-1zM1006 182h1v2h-1zM1007 184h1v1h-1zM1008 185h1v2h-1zM1009 187h1v1h-1zM1010 188h1v2h-1zM1011 190h1v2h-1zM1012 192h1v1h-1zM1013 193h1v2h-1zM1014 195h1v1h-1zM1015 196h1v2h-1zM1016 198h1v2h-1zM1017 200h1v1h-1zM1018 201h1v2h-1zM1019 203h1v2h-1zM1020 205h1v1h-1zM1021 206h1v2h-1zM1022 208h1v2h-1zM1023 210h1v2h-1zM1024 212h1v2h-1zM1025 214h1v2h-1zM1026 216h1v2h-1zM1027 218h1v2h-1zM1028 220h1v2h-1zM1029 222h1v2h-1zM1030 224h1v2h-1zM1031 226h1v2h-1zM1032 228h1v1h-1zM1033 229h1v1h-1zM1034 230h1v2h-1zM1035 232h1v2h-1zM1036 234h1v2h-1zM1037 236h1v2h-1zM1038 238h1v2h-1zM1039 240h1v2h-1zM1040 242h1v2h-1zM1041 244h1v3h-1zM1042 247h1v2h-1zM1043 249h1v2h-1zM1044 251h1v2h-1zM1045 253h1v2h-1zM1046 255h1v2h-1zM1047 257h1v2h-1zM1048 259h1v2h-1zM1049 261h1v2h-1zM1050 263h1v1h-1zM1051 264h1v2h-1zM1052 266h1v2h-1zM1053 268h1v2h-1zM1054 270h1v1h-1zM1055 271h1v2h-1zM1056 273h1v2h-1zM1057 275h1v1h-1zM1058 276h1v2h-1zM1059 278h1v2h-1zM1060 280h1v2h-1zM1061 282h1v1h-1zM1062 283h1v2h-1zM1063 285h1v2h-1zM1064 287h1v2h-1zM1065 289h1v2h-1zM1066 291h1v2h-1zM1067 293h1v2h-1zM1068 295h1v2h-1zM1069 297h1v2h-1zM1070 299h1v2h-1zM1071 301h1v2h-1zM1072 303h1v3h-1zM1073 306h1v2h-1zM1074 308h1v3h-1zM1075 311h1v2h-1zM1076 313h1v3h-1zM1077 316h1v2h-1zM1078 318h1v3h-1zM1079 321h1v2h-1zM1080 323h1v2h-1zM1081 325h1v2h-1zM1082 327h1v2h-1zM1083 329h1v2h-1zM1084 331h1v2h-1zM1085 333h1v2h-1zM1086 335h1v2h-1zM1087 337h1v2h-1zM1088 339h1v3h-1zM1089 342h1v2h-1zM1090 344h1v3h-1zM1091 347h1v2h-1zM1092 349h1v3h-1zM1093 352h1v2h-1zM1094 354h1v3h-1zM1095 357h1v3h-1zM1096 360h1v2h-1zM1097 362h1v3h-1zM1098 365h1v3h-1zM1099 368h1v2h-1zM1100 370h1v3h-1zM1101 373h1v2h-1zM1102 375h1v2h-1zM1103 377h1v2h-1zM1104 379h1v2h-1zM1105 381h1v3h-1zM1106 384h1v2h-1zM1107 386h1v2h-1zM1108 388h1v2h-1zM1109 390h1v2h-1zM1110 392h1v3h-1zM1111 395h1v2h-1zM1112 397h1v2h-1zM1113 399h1v2h-1zM1114 401h1v2h-1zM1115 403h1v2h-1zM1116 405h1v2h-1zM1117 407h1v3h-1zM1118 410h1v2h-1zM1119 412h1v2h-1zM1120 414h1v2h-1zM1121 416h1v2h-1zM1122 418h1v2h-1zM1123 420h1v2h-1zM1124 422h1v2h-1zM1125 424h1v2h-1zM1126 426h1v2h-1zM1127 428h1v2h-1zM1128 430h1v1h-1zM1129 431h1v2h-1zM1130 433h1v2h-1zM1131 435h1v1h-1zM1132 436h1v2h-1zM1133 438h1v2h-1zM1134 440h1v1h-1zM1135 441h1v2h-1zM1136 443h1v1h-1zM1137 444h1v1h-1zM1138 445h1v2h-1zM1139 447h1v1h-1zM1140 448h1v1h-1zM1141 449h1v2h-1zM1142 451h1v1h-1zM1143 452h2v1h-2zM1145 453h2v1h-2zM1147 454h1v1h-1zM1148 455h2v1h-2zM1150 456h1v1h-1zM1151 457h2v1h-2zM1153 458h2v1h-2zM1155 459h1v1h-1zM1156 460h1v1h-1zM1157 461h1v1h-1zM1158 462h1v1h-1zM1159 463h1v1h-1zM1160 464h1v1h-1zM1161 465h1v1h-1zM1162 466h1v1h-1zM1163 467h1v1h-1zM1164 468h1v1h-1zM1165 469h1v1h-1zM1166 470h1v1h-1zM1167 471h2v1h-2zM1169 472h1v1h-1zM1170 473h1v1h-1zM1171 474h2v1h-2zM1173 475h2v1h-2zM1175 474h3v1h-3zM1178 473h3v1h-3zM1181 472h2v1h-2zM1183 471h1v1h-1zM1184 470h1v1h-1zM1185 469h1v1h-1zM1186 468h1v1h-1zM1187 467h1v1h-1zM1188 466h1v1h-1zM1189 465h1v1h-1zM1190 464h1v1h-1zM1191 463h1v1h-1zM1192 462h1v1h-1zM1193 461h1v1h-1zM1194 460h1v1h-1zM1195 459h1v1h-1zM1196 458h1v1h-1zM1197 457h1v1h-1zM1198 456h1v1h-1zM1199 455h1v1h-1zM1200 454h1v1h-1zM1201 453h2v1h-2zM1203 452h1v1h-1zM1204 451h2v1h-2zM1206 450h1v1h-1zM1207 449h2v1h-2zM1209 448h2v1h-2zM1211 447h2v1h-2zM1213 446h1v1h-1zM1214 445h2v1h-2zM1216 444h2v1h-2zM1218 443h2v1h-2zM1220 442h2v1h-2zM1222 441h3v1h-3zM1225 440h2v1h-2zM1227 439h3v1h-3zM1230 438h2v1h-2zM1232 437h2v1h-2zM1234 436h1v1h-1zM1235 435h1v1h-1zM1236 434h2v1h-2zM1238 433h1v1h-1zM1239 432h1v1h-1zM1240 431h2v1h-2zM1242 430h1v1h-1zM1243 429h1v1h-1zM1244 428h1v1h-1zM1245 426h1v2h-1zM1246 425h1v1h-1zM1247 424h1v1h-1zM1248 423h1v1h-1zM1249 422h1v1h-1zM1250 420h1v2h-1zM1251 419h1v1h-1zM1252 418h1v1h-1zM1253 417h1v1h-1zM1254 416h1v1h-1zM1255 415h1v1h-1zM1256 413h1v2h-1zM1257 412h1v1h-1zM1258 411h1v1h-1zM1259 410h1v1h-1zM1260 409h1v1h-1zM1261 407h1v2h-1zM1262 406h1v1h-1zM1263 405h1v1h-1zM1264 404h1v1h-1zM1265 403h1v1h-1zM1266 402h1v1h-1zM1267 401h1v1h-1zM1268 400h1v1h-1zM1269 399h1v1h-1zM1270 398h2v1h-2zM1272 397h1v1h-1zM1273 396h1v1h-1zM1274 395h1v1h-1zM1275 394h1v1h-1zM1276 393h1v1h-1zM1277 392h1v1h-1zM1278 391h1v1h-1zM1279 390h1v1h-1zM1280 389h1v1h-1zM1281 388h2v1h-2zM1283 387h1v1h-1zM1284 386h1v1h-1zM1285 385h1v1h-1zM1286 384h1v1h-1zM1287 383h1v1h-1zM1288 382h2v1h-2zM1290 381h1v1h-1zM1291 380h2v1h-2zM1293 379h1v1h-1zM1294 378h2v1h-2zM1296 377h2v1h-2zM1298 376h3v1h-3zM1301 375h2v1h-2z" fill="#2aaa62"/>
<path d="M0 439h1v1h-1zM1 440h2v1h-2zM3 441h1v1h-1zM4 442h1v1h-1zM5 443h2v1h-2zM7 444h1v1h-1zM8 445h1v1h-1zM9 446h2v1h-2zM11 447h2v1h-2zM13 448h3v1h-3zM16 449h2v1h-2zM18 450h3v1h-3zM21 451h3v1h-3zM24 452h10v1h-10zM34 451h18v1h-18zM52 452h11v1h-11zM63 451h2v1h-2zM65 450h3v1h-3zM68 449h2v1h-2zM70 448h2v1h-2zM72 447h1v1h-1zM73 446h1v1h-1zM74 445h1v1h-1zM75 444h1v1h-1zM76 443h2v1h-2zM78 442h1v1h-1zM79 441h1v1h-1zM80 440h1v1h-1zM81 439h1v1h-1zM82 438h2v1h-2zM84 437h2v1h-2zM86 436h2v1h-2zM88 437h2v1h-2zM90 438h2v1h-2zM92 439h3v1h-3zM95 440h2v1h-2zM97 441h2v1h-2zM99 442h1v2h-1zM100 444h1v2h-1zM101 446h1v2h-1zM102 448h1v2h-1zM103 450h1v2h-1zM104 452h1v2h-1zM105 454h1v2h-1zM106 456h1v2h-1zM107 458h1v2h-1zM108 460h1v2h-1zM109 462h1v2h-1zM110 464h1v2h-1zM111 466h1v2h-1zM112 468h1v2h-1zM113 470h1v2h-1zM114 472h1v2h-1zM115 474h1v2h-1zM116 476h1v2h-1zM117 478h2v1h-2zM119 479h1v1h-1zM120 480h1v1h-1zM121 481h2v1h-2zM123 482h1v1h-1zM124 483h1v1h-1zM125 484h2v1h-2zM127 485h2v1h-2zM129 486h3v1h-3zM132 487h3v1h-3zM135 488h3v1h-3zM138 487h4v1h-4zM142 486h3v1h-3zM145 485h1v1h-1zM146 484h1v1h-1zM147 483h1v1h-1zM148 482h1v1h-1zM149 481h1v1h-1zM150 480h2v1h-2zM152 479h1v1h-1zM153 478h1v1h-1zM154 477h1v1h-1zM155 476h1v1h-1zM156 475h1v1h-1zM157 473h1v2h-1zM158 472h1v1h-1zM159 471h1v1h-1zM160 469h1v2h-1zM161 468h1v1h-1zM162 467h1v1h-1zM163 465h1v2h-1zM164 464h1v1h-1zM165 462h1v2h-1zM166 461h1v1h-1zM167 460h1v1h-1zM168 458h1v2h-1zM169 457h1v1h-1zM170 456h1v1h-1zM171 454h1v2h-1zM172 452h1v2h-1zM173 450h1v2h-1zM174 448h1v2h-1zM175 446h1v2h-1zM176 444h1v2h-1zM177 441h1v3h-1zM178 439h1v2h-1zM179 437h1v2h-1zM180 435h1v2h-1zM181 433h1v2h-1zM182 432h1v1h-1zM183 430h1v2h-1zM184 429h1v1h-1zM185 428h1v1h-1zM186 427h1v1h-1zM187 425h1v2h-1zM188 424h1v1h-1zM189 423h1v1h-1zM190 422h1v1h-1zM191 421h1v1h-1zM192 419h1v2h-1zM193 418h1v1h-1zM194 417h1v1h-1zM195 416h1v1h-1zM196 414h1v2h-1zM197 413h1v1h-1zM198 412h1v1h-1zM199 410h1v2h-1zM200 408h1v2h-1zM201 406h1v2h-1zM202 404h1v2h-1zM203 402h1v2h-1zM204 400h1v2h-1zM205 398h1v2h-1zM206 396h1v2h-1zM207 394h1v2h-1zM208 392h1v2h-1zM209 390h1v2h-1zM210 388h1v2h-1zM211 386h1v2h-1zM212 384h1v2h-1zM213 382h1v2h-1zM214 380h1v2h-1zM215 378h1v2h-1zM216 376h1v2h-1zM217 374h1v2h-1zM218 372h1v2h-1zM219 369h1v3h-1zM220 367h1v2h-1zM221 365h1v2h-1zM222 362h1v3h-1zM223 360h1v2h-1zM224 358h1v2h-1zM225 356h1v2h-1zM226 354h1v2h-1zM227 352h1v2h-1zM228 351h1v1h-1zM229 349h1v2h-1zM230 348h1v1h-1zM231 346h1v2h-1zM232 345h1v1h-1zM233 343h1v2h-1zM234 342h1v1h-1zM235 340h1v2h-1zM236 339h1v1h-1zM237 337h1v2h-1zM238 336h1v1h-1zM239 334h1v2h-1zM240 333h1v1h-1zM241 331h1v2h-1zM242 329h1v2h-1zM243 328h1v1h-1zM244 326h1v2h-1zM245 325h1v1h-1zM246 323h1v2h-1zM247 321h1v2h-1zM248 320h1v1h-1zM249 318h1v2h-1zM250 317h1v1h-1zM251 315h1v2h-1zM252 314h1v1h-1zM253 312h1v2h-1zM254 311h1v1h-1zM255 310h1v1h-1zM256 308h1v2h-1zM257 307h1v1h-1zM258 306h1v1h-1zM259 304h1v2h-1zM260 303h1v1h-1zM261 302h2v1h-2zM263 301h2v1h-2zM265 300h19v1h-19zM284 301h3v1h-3zM287 302h2v1h-2zM289 303h3v1h-3zM292 304h2v1h-2zM294 305h2v1h-2zM296 306h2v1h-2zM298 307h2v1h-2zM300 308h2v1h-2zM302 309h1v1h-1zM303 310h2v1h-2zM305 311h2v1h-2zM307 312h2v1h-2zM309 313h4v1h-4zM313 312h13v1h-13zM326 311h1v1h-1zM327 310h2v1h-2zM329 309h1v1h-1zM330 308h1v1h-1zM331 307h2v1h-2zM333 305h1v2h-1zM334 303h1v2h-1zM335 301h1v2h-1zM336 299h1v2h-1zM337 297h1v2h-1zM338 295h1v2h-1zM339 293h1v2h-1zM340 291h1v2h-1zM341 289h1v2h-1zM342 287h1v2h-1zM343 285h1v2h-1zM344 283h1v2h-1zM345 280h1v3h-1zM346 278h1v2h-1zM347 275h1v3h-1zM348 273h1v2h-1zM349 271h1v2h-1zM350 269h1v2h-1zM351 267h1v2h-1zM352 265h1v2h-1zM353 263h1v2h-1zM354 261h1v2h-1zM355 259h1v2h-1zM356 257h1v2h-1zM357 255h1v2h-1zM358 253h1v2h-1zM359 251h1v2h-1zM360 249h1v2h-1zM361 247h1v2h-1zM362 245h1v2h-1zM363 243h1v2h-1zM364 241h1v2h-1zM365 239h1v2h-1zM366 238h1v1h-1zM367 237h1v1h-1zM368 236h1v1h-1zM369 235h1v1h-1zM370 233h1v2h-1zM371 232h1v1h-1zM372 231h1v1h-1zM373 230h2v1h-2zM375 229h2v1h-2zM377 228h2v1h-2zM379 227h6v1h-6zM385 226h5v1h-5zM390 225h1v1h-1zM391 224h1v1h-1zM392 223h1v1h-1zM393 222h2v1h-2zM395 221h1v1h-1zM396 220h1v1h-1zM397 219h1v1h-1zM398 218h1v1h-1zM399 217h2v1h-2zM401 216h1v1h-1zM402 215h1v1h-1zM403 214h2v1h-2zM405 213h1v1h-1zM406 212h1v1h-1zM407 211h1v1h-1zM408 210h2v1h-2zM410 209h1v1h-1zM411 208h1v1h-1zM412 207h2v1h-2zM414 206h1v1h-1zM415 205h1v1h-1zM416 204h1v1h-1zM417 203h1v1h-1zM418 202h1v1h-1zM419 201h2v1h-2zM421 200h1v1h-1zM422 199h1v1h-1zM423 198h1v1h-1zM424 197h1v1h-1zM425 195h1v2h-1zM426 194h1v1h-1zM427 193h1v1h-1zM428 192h1v1h-1zM429 190h1v2h-1zM430 189h1v1h-1zM431 188h1v1h-1zM432 187h2v1h-2zM434 186h1v1h-1zM435 185h2v1h-2zM437 184h1v1h-1zM438 183h2v1h-2zM440 182h2v1h-2zM442 181h1v1h-1zM443 180h2v1h-2zM445 179h8v1h-8zM453 178h11v1h-11zM464 179h6v1h-6zM470 180h5v1h-5zM475 181h2v1h-2zM477 182h2v1h-2zM479 183h2v1h-2zM481 184h2v1h-2zM483 185h2v1h-2zM485 186h6v1h-6zM491 187h19v1h-19zM510 186h1v1h-1zM511 185h1v1h-1zM512 184h1v1h-1zM513 183h1v1h-1zM514 182h2v1h-2zM516 181h1v1h-1zM517 180h1v1h-1zM518 179h1v1h-1zM519 178h2v1h-2zM521 177h2v1h-2zM523 176h3v1h-3zM526 175h2v1h-2zM528 174h3v1h-3zM531 173h2v1h-2zM533 172h2v1h-2zM535 171h2v1h-2zM537 170h1v1h-1zM538 169h2v1h-2zM540 168h1v1h-1zM541 167h2v1h-2zM543 166h1v1h-1zM544 165h2v1h-2zM546 164h1v1h-1zM547 163h2v1h-2zM549 162h2v1h-2zM551 161h2v1h-2zM553 160h2v1h-2zM555 159h2v1h-2zM557 158h2v1h-2zM558 157h1v1h-1zM559 155h1v2h-1zM560 152h1v3h-1zM561 149h1v3h-1zM562 147h1v2h-1zM563 144h1v3h-1zM564 142h1v2h-1zM565 140h1v2h-1zM566 139h1v1h-1zM567 138h1v1h-1zM568 136h1v2h-1zM569 135h1v1h-1zM570 134h1v1h-1zM571 132h1v2h-1zM572 131h1v1h-1zM573 130h1v1h-1zM574 129h2v1h-2zM576 128h1v1h-1zM577 127h1v1h-1zM578 126h2v1h-2zM580 125h1v1h-1zM581 124h4v1h-4zM585 123h8v1h-8zM593 122h5v1h-5zM598 121h3v1h-3zM601 120h2v1h-2zM603 119h3v1h-3zM606 118h3v1h-3zM609 117h3v1h-3zM612 116h3v1h-3zM615 115h2v1h-2zM617 114h3v1h-3zM620 113h4v1h-4zM624 114h6v1h-6zM630 115h3v1h-3zM633 116h2v1h-2zM635 117h2v1h-2zM637 118h1v1h-1zM638 119h2v1h-2zM640 120h2v1h-2zM642 121h1v1h-1zM643 122h1v2h-1zM644 124h1v2h-1zM645 126h1v2h-1zM646 128h1v2h-1zM647 130h1v2h-1zM648 132h1v2h-1zM649 134h1v4h-1zM650 138h1v4h-1zM651 142h1v4h-1zM652 146h1v4h-1zM653 150h1v3h-1zM654 153h1v2h-1zM655 155h1v3h-1zM656 158h1v2h-1zM657 160h1v3h-1zM658 163h1v2h-1zM659 165h1v3h-1zM660 168h1v2h-1zM661 170h1v2h-1zM662 172h1v3h-1zM663 175h1v2h-1zM664 177h1v2h-1zM665 179h1v3h-1zM666 182h1v2h-1zM667 184h1v2h-1zM668 186h1v2h-1zM669 188h1v2h-1zM670 190h1v1h-1zM671 191h1v2h-1zM672 193h1v1h-1zM673 194h1v2h-1zM674 196h1v2h-1zM675 198h1v1h-1zM676 199h1v2h-1zM677 201h1v1h-1zM678 202h1v1h-1zM679 203h2v1h-2zM681 204h1v1h-1zM682 205h1v1h-1zM683 206h2v1h-2zM685 207h3v1h-3zM688 208h5v1h-5zM693 209h5v1h-5zM698 210h16v1h-16zM714 209h3v1h-3zM717 208h3v1h-3zM720 207h3v1h-3zM723 206h3v1h-3zM726 205h3v1h-3zM729 204h4v1h-4zM733 203h10v1h-10zM743 204h1v1h-1zM744 205h1v1h-1zM745 206h1v1h-1zM746 207h2v1h-2zM748 208h1v1h-1zM749 209h1v1h-1zM750 210h2v1h-2zM752 211h2v1h-2zM754 212h2v1h-2zM756 213h3v1h-3zM759 214h2v1h-2zM761 215h3v1h-3zM764 216h3v1h-3zM767 217h3v1h-3zM770 218h3v1h-3zM773 219h4v1h-4zM777 218h5v1h-5zM782 217h5v1h-5zM787 216h6v1h-6zM793 215h8v1h-8zM801 214h4v1h-4zM805 213h2v1h-2zM807 212h2v1h-2zM809 211h2v1h-2zM811 210h2v1h-2zM813 209h1v1h-1zM814 208h2v1h-2zM816 207h2v1h-2zM818 206h2v1h-2zM820 205h9v1h-9zM829 204h14v1h-14zM843 205h8v1h-8zM851 206h4v1h-4zM855 207h4v1h-4zM859 208h17v1h-17zM876 207h15v1h-15zM891 206h12v1h-12zM903 205h2v1h-2zM905 204h3v1h-3zM908 203h2v1h-2zM910 202h3v1h-3zM913 201h2v1h-2zM915 200h4v1h-4zM919 199h5v1h-5zM924 198h4v1h-4zM928 197h2v1h-2zM930 196h2v1h-2zM932 195h7v1h-7zM939 196h2v1h-2zM941 197h2v1h-2zM943 198h2v1h-2zM945 199h2v1h-2zM947 200h3v1h-3zM950 201h2v1h-2zM952 202h2v1h-2zM954 203h2v1h-2zM956 204h2v1h-2zM958 205h2v1h-2zM960 206h2v1h-2zM962 207h2v1h-2zM964 208h2v1h-2zM966 209h2v1h-2zM968 210h2v1h-2zM970 211h1v1h-1zM971 212h1v1h-1zM972 213h2v1h-2zM974 214h1v1h-1zM975 215h1v1h-1zM976 216h1v1h-1zM977 217h1v2h-1zM978 219h1v1h-1zM979 220h1v1h-1zM980 221h1v2h-1zM981 223h1v3h-1zM982 226h1v3h-1zM983 229h1v3h-1zM984 232h1v4h-1zM985 236h1v4h-1zM986 240h1v4h-1zM987 244h1v4h-1zM988 248h1v4h-1zM989 252h1v4h-1zM990 256h1v4h-1zM991 260h1v4h-1zM992 264h1v4h-1zM993 268h1v4h-1zM994 272h1v3h-1zM995 275h1v4h-1zM996 279h1v4h-1zM997 283h1v3h-1zM998 286h1v4h-1zM999 290h1v4h-1zM1000 294h1v3h-1zM1001 297h1v4h-1zM1002 301h1v4h-1zM1003 305h1v4h-1zM1004 309h1v4h-1zM1005 313h1v4h-1zM1006 317h1v5h-1zM1007 322h1v4h-1zM1008 326h1v4h-1zM1009 330h1v3h-1zM1010 333h1v3h-1zM1011 336h1v3h-1zM1012 339h1v3h-1zM1013 342h1v3h-1zM1014 345h1v3h-1zM1015 348h1v3h-1zM1016 351h1v3h-1zM1017 354h1v3h-1zM1018 357h1v3h-1zM1019 360h1v3h-1zM1020 363h1v3h-1zM1021 366h1v4h-1zM1022 370h1v4h-1zM1023 374h1v4h-1zM1024 378h1v4h-1zM1025 382h1v5h-1zM1026 387h1v6h-1zM1027 393h1v7h-1zM1028 400h1v5h-1zM1029 405h1v4h-1zM1030 409h1v4h-1zM1031 413h1v4h-1zM1032 417h1v5h-1zM1033 422h1v5h-1zM1034 427h1v5h-1zM1035 432h1v4h-1zM1036 436h1v3h-1zM1037 439h1v3h-1zM1038 442h1v4h-1zM1039 446h1v3h-1zM1040 449h1v3h-1zM1041 452h1v4h-1zM1042 456h1v4h-1zM1043 460h1v4h-1zM1044 464h1v4h-1zM1045 468h1v4h-1zM1046 472h1v3h-1zM1047 475h1v4h-1zM1048 479h1v4h-1zM1049 483h1v4h-1zM1050 487h1v4h-1zM1051 491h1v2h-1zM1052 493h1v2h-1zM1053 495h1v2h-1zM1054 497h1v2h-1zM1055 499h1v2h-1zM1056 501h1v2h-1zM1057 503h1v2h-1zM1058 505h1v2h-1zM1059 507h1v2h-1zM1060 509h1v2h-1zM1061 511h1v1h-1zM1062 512h1v2h-1zM1063 514h1v1h-1zM1064 515h1v2h-1zM1065 517h1v2h-1zM1066 519h1v1h-1zM1067 520h1v2h-1zM1068 522h1v1h-1zM1069 523h1v2h-1zM1070 525h1v2h-1zM1071 527h1v3h-1zM1072 530h1v3h-1zM1073 533h1v4h-1zM1074 537h1v3h-1zM1075 540h1v3h-1zM1076 543h1v4h-1zM1077 547h1v3h-1zM1078 550h1v3h-1zM1079 553h1v4h-1zM1080 557h1v4h-1zM1081 561h1v4h-1zM1082 565h1v4h-1zM1083 569h1v4h-1zM1084 573h1v4h-1zM1085 577h1v4h-1zM1086 581h1v3h-1zM1087 584h1v3h-1zM1088 587h1v4h-1zM1089 591h1v3h-1zM1090 594h1v3h-1zM1091 597h1v4h-1zM1092 601h1v3h-1zM1093 604h1v4h-1zM1094 608h1v3h-1zM1095 611h1v2h-1zM1096 613h1v2h-1zM1097 615h1v2h-1zM1098 617h1v2h-1zM1099 619h1v2h-1zM1100 621h1v2h-1zM1101 623h1v2h-1zM1102 625h1v2h-1zM1103 627h1v2h-1zM1104 629h1v2h-1zM1105 631h1v2h-1zM1106 633h1v2h-1zM1107 635h1v2h-1zM1108 637h1v2h-1zM1109 639h1v2h-1zM1110 640h16v1h-16zM1126 638h1v2h-1zM1127 636h1v2h-1zM1128 634h1v2h-1zM1129 632h1v2h-1zM1130 630h1v2h-1zM1131 628h1v2h-1zM1132 626h1v2h-1zM1133 624h1v2h-1zM1134 622h1v2h-1zM1135 620h1v2h-1zM1136 619h1v1h-1zM1137 617h1v2h-1zM1138 615h1v2h-1zM1139 614h1v1h-1zM1140 612h1v2h-1zM1141 610h1v2h-1zM1142 609h1v1h-1zM1143 608h1v1h-1zM1144 607h1v1h-1zM1145 606h1v1h-1zM1146 605h1v1h-1zM1147 604h1v1h-1zM1148 603h1v1h-1zM1149 602h1v1h-1zM1150 601h1v1h-1zM1151 600h1v1h-1zM1152 599h1v1h-1zM1153 598h1v1h-1zM1154 597h1v1h-1zM1155 596h1v1h-1zM1156 595h1v1h-1zM1157 594h2v1h-2zM1159 593h2v1h-2zM1161 592h3v1h-3zM1164 591h2v1h-2zM1166 590h1v1h-1zM1167 589h1v1h-1zM1168 588h1v1h-1zM1169 587h1v1h-1zM1170 586h1v1h-1zM1171 585h1v1h-1zM1172 584h1v1h-1zM1173 583h1v1h-1zM1174 582h1v1h-1zM1175 583h1v2h-1zM1176 585h1v2h-1zM1177 587h1v2h-1zM1178 589h1v2h-1zM1179 591h1v2h-1zM1180 593h1v2h-1zM1181 595h1v2h-1zM1182 597h1v2h-1zM1183 599h1v2h-1zM1184 601h1v2h-1zM1185 603h1v1h-1zM1186 604h1v2h-1zM1187 606h1v2h-1zM1188 608h1v2h-1zM1189 610h1v1h-1zM1190 611h1v2h-1zM1191 613h1v1h-1zM1192 614h1v2h-1zM1193 616h1v1h-1zM1194 617h1v2h-1zM1195 619h1v1h-1zM1196 620h1v2h-1zM1197 622h4v1h-4zM1201 623h6v1h-6zM1207 624h23v1h-23zM1230 623h1v1h-1zM1231 622h2v1h-2zM1233 621h1v1h-1zM1234 620h1v1h-1zM1235 619h2v1h-2zM1237 618h1v1h-1zM1238 616h1v2h-1zM1239 614h1v2h-1zM1240 612h1v2h-1zM1241 610h1v2h-1zM1242 608h1v2h-1zM1243 606h1v2h-1zM1244 604h1v2h-1zM1245 602h1v2h-1zM1246 599h1v3h-1zM1247 597h1v2h-1zM1248 594h1v3h-1zM1249 591h1v3h-1zM1250 589h1v2h-1zM1251 586h1v3h-1zM1252 583h1v3h-1zM1253 581h1v2h-1zM1254 578h1v3h-1zM1255 575h1v3h-1zM1256 572h1v3h-1zM1257 569h1v3h-1zM1258 566h1v3h-1zM1259 564h1v2h-1zM1260 561h1v3h-1zM1261 558h1v3h-1zM1262 555h1v3h-1zM1263 552h1v3h-1zM1264 550h1v2h-1zM1265 547h1v3h-1zM1266 545h1v2h-1zM1267 542h1v3h-1zM1268 539h1v3h-1zM1269 537h1v2h-1zM1270 534h1v3h-1zM1271 532h1v2h-1zM1272 529h1v3h-1zM1273 527h1v2h-1zM1274 524h1v3h-1zM1275 522h1v2h-1zM1276 519h1v3h-1zM1277 517h1v2h-1zM1278 515h1v2h-1zM1279 514h1v1h-1zM1280 513h1v1h-1zM1281 512h1v1h-1zM1282 510h1v2h-1zM1283 509h1v1h-1zM1284 508h1v1h-1zM1285 507h1v1h-1zM1286 505h1v2h-1zM1287 502h1v3h-1zM1288 499h1v3h-1zM1289 496h1v3h-1zM1290 492h1v4h-1zM1291 489h1v3h-1zM1292 486h1v3h-1zM1293 484h1v2h-1zM1294 483h2v1h-2zM1296 482h1v1h-1zM1297 481h2v1h-2zM1299 480h2v1h-2zM1301 479h1v1h-1z" fill="#2aaa62"/>
<rect x="0" y="281" width="1648" height="2" fill="#ff0000"/>
<rect x="1642" y="279" width="6" height="6" fill="#ff0000"/><rect x="1644" y="281" width="2" height="2" fill="#fff"/>
<rect x="0" y="316" width="1648" height="2" fill="#ff0000"/>
<rect x="1642" y="314" width="6" height="6" fill="#ff0000"/><rect x="1644" y="316" width="2" height="2" fill="#fff"/>
<rect x="0" y="355" width="1648" height="2" fill="#ffa500"/>
<rect x="1642" y="353" width="6" height="6" fill="#ffa500"/><rect x="1644" y="355" width="2" height="2" fill="#fff"/>
<rect x="0" y="407" width="1648" height="2" fill="#0000ff"/>
<rect x="1642" y="405" width="6" height="6" fill="#0000ff"/><rect x="1644" y="407" width="2" height="2" fill="#fff"/>
<rect x="0" y="442" width="1648" height="2" fill="#0000ff"/>
<rect x="1642" y="440" width="6" height="6" fill="#0000ff"/><rect x="1644" y="442" width="2" height="2" fill="#fff"/>
<polygon points="1309,23 1320,23 1314.5,28.5" fill="#000"/>
</g>
<g clip-path="url(#cpMacd)">
<g fill="#00ff00"><rect x="4" y="677" width="3" height="41"/><rect x="12" y="677" width="3" height="38"/><rect x="20" y="677" width="3" height="38"/><rect x="28" y="677" width="3" height="35"/><rect x="36" y="677" width="3" height="32"/><rect x="44" y="677" width="3" height="27"/><rect x="52" y="677" width="3" height="26"/><rect x="60" y="677" width="3" height="25"/><rect x="68" y="677" width="3" height="22"/><rect x="76" y="677" width="3" height="17"/><rect x="84" y="677" width="3" height="12"/><rect x="92" y="677" width="3" height="7"/><rect x="100" y="677" width="3" height="2"/><rect x="108" y="668" width="3" height="9"/><rect x="116" y="657" width="3" height="20"/><rect x="124" y="650" width="3" height="27"/><rect x="132" y="643" width="3" height="34"/><rect x="140" y="638" width="3" height="39"/><rect x="148" y="636" width="3" height="41"/><rect x="156" y="639" width="3" height="38"/><rect x="164" y="641" width="3" height="36"/><rect x="172" y="644" width="3" height="33"/><rect x="180" y="650" width="3" height="27"/><rect x="188" y="655" width="3" height="22"/><rect x="196" y="657" width="3" height="20"/><rect x="204" y="659" width="3" height="18"/><rect x="212" y="657" width="3" height="20"/><rect x="220" y="651" width="3" height="26"/><rect x="228" y="648" width="3" height="29"/><rect x="236" y="647" width="3" height="30"/><rect x="244" y="648" width="3" height="29"/><rect x="252" y="648" width="3" height="29"/><rect x="260" y="648" width="3" height="29"/><rect x="268" y="647" width="3" height="30"/><rect x="276" y="649" width="3" height="28"/><rect x="284" y="647" width="3" height="30"/><rect x="292" y="644" width="3" height="33"/><rect x="300" y="642" width="3" height="35"/><rect x="308" y="639" width="3" height="38"/><rect x="316" y="637" width="3" height="40"/><rect x="324" y="636" width="3" height="41"/><rect x="332" y="636" width="3" height="41"/><rect x="340" y="636" width="3" height="41"/><rect x="348" y="636" width="3" height="41"/><rect x="356" y="642" width="3" height="35"/><rect x="364" y="644" width="3" height="33"/><rect x="372" y="647" width="3" height="30"/><rect x="380" y="649" width="3" height="28"/><rect x="388" y="651" width="3" height="26"/><rect x="396" y="652" width="3" height="25"/><rect x="404" y="657" width="3" height="20"/><rect x="412" y="658" width="3" height="19"/><rect x="420" y="657" width="3" height="20"/><rect x="428" y="655" width="3" height="22"/><rect x="436" y="654" width="3" height="23"/><rect x="444" y="654" width="3" height="23"/><rect x="452" y="653" width="3" height="24"/><rect x="460" y="654" width="3" height="23"/><rect x="468" y="653" width="3" height="24"/><rect x="476" y="652" width="3" height="25"/><rect x="484" y="649" width="3" height="28"/><rect x="492" y="649" width="3" height="28"/><rect x="500" y="650" width="3" height="27"/><rect x="508" y="651" width="3" height="26"/><rect x="516" y="652" width="3" height="25"/><rect x="524" y="651" width="3" height="26"/><rect x="532" y="651" width="3" height="26"/><rect x="540" y="653" width="3" height="24"/><rect x="548" y="653" width="3" height="24"/><rect x="556" y="653" width="3" height="24"/><rect x="564" y="653" width="3" height="24"/><rect x="572" y="654" width="3" height="23"/><rect x="580" y="656" width="3" height="21"/><rect x="588" y="659" width="3" height="18"/><rect x="596" y="662" width="3" height="15"/><rect x="604" y="663" width="3" height="14"/><rect x="612" y="665" width="3" height="12"/><rect x="620" y="667" width="3" height="10"/><rect x="628" y="669" width="3" height="8"/><rect x="636" y="671" width="3" height="6"/><rect x="644" y="674" width="3" height="3"/><rect x="652" y="677" width="3" height="6"/><rect x="660" y="677" width="3" height="12"/><rect x="668" y="677" width="3" height="17"/><rect x="676" y="677" width="3" height="21"/><rect x="684" y="677" width="3" height="20"/><rect x="692" y="677" width="3" height="18"/><rect x="700" y="677" width="3" height="16"/><rect x="708" y="677" width="3" height="12"/><rect x="716" y="677" width="3" height="10"/><rect x="724" y="677" width="3" height="7"/><rect x="732" y="677" width="3" height="7"/><rect x="740" y="677" width="3" height="6"/><rect x="748" y="677" width="3" height="11"/><rect x="756" y="677" width="3" height="13"/><rect x="764" y="677" width="3" height="15"/><rect x="772" y="677" width="3" height="16"/><rect x="780" y="677" width="3" height="14"/><rect x="788" y="677" width="3" height="10"/><rect x="796" y="677" width="3" height="10"/><rect x="804" y="677" width="3" height="9"/><rect x="812" y="677" width="3" height="9"/><rect x="820" y="677" width="3" height="10"/><rect x="828" y="677" width="3" height="13"/><rect x="836" y="677" width="3" height="14"/><rect x="844" y="677" width="3" height="8"/><rect x="852" y="677" width="3" height="4"/><rect x="860" y="676" width="3" height="1"/><rect x="868" y="675" width="3" height="2"/><rect x="876" y="676" width="3" height="1"/><rect x="884" y="676" width="3" height="1"/><rect x="892" y="675" width="3" height="2"/><rect x="900" y="676" width="3" height="1"/><rect x="908" y="676" width="3" height="1"/><rect x="916" y="677" width="3" height="1"/><rect x="924" y="677" width="3" height="4"/><rect x="932" y="677" width="3" height="4"/><rect x="940" y="677" width="3" height="6"/><rect x="948" y="677" width="3" height="8"/><rect x="956" y="677" width="3" height="10"/><rect x="964" y="677" width="3" height="11"/><rect x="972" y="677" width="3" height="13"/><rect x="980" y="677" width="3" height="17"/><rect x="988" y="677" width="3" height="27"/><rect x="996" y="677" width="3" height="35"/><rect x="1004" y="677" width="3" height="43"/><rect x="1012" y="677" width="3" height="49"/><rect x="1020" y="677" width="3" height="56"/><rect x="1028" y="677" width="3" height="65"/><rect x="1036" y="677" width="3" height="72"/><rect x="1044" y="677" width="3" height="79"/><rect x="1052" y="677" width="3" height="82"/><rect x="1060" y="677" width="3" height="82"/><rect x="1068" y="677" width="3" height="80"/><rect x="1076" y="677" width="3" height="85"/><rect x="1084" y="677" width="3" height="92"/><rect x="1092" y="677" width="3" height="98"/><rect x="1100" y="677" width="3" height="99"/><rect x="1108" y="677" width="3" height="99"/><rect x="1116" y="677" width="3" height="97"/><rect x="1124" y="677" width="3" height="90"/><rect x="1132" y="677" width="3" height="86"/><rect x="1140" y="677" width="3" height="74"/><rect x="1148" y="677" width="3" height="64"/><rect x="1156" y="677" width="3" height="57"/><rect x="1164" y="677" width="3" height="55"/><rect x="1172" y="677" width="3" height="51"/><rect x="1180" y="677" width="3" height="33"/><rect x="1188" y="677" width="3" height="18"/><rect x="1196" y="677" width="3" height="6"/><rect x="1204" y="677" width="3" height="1"/><rect x="1212" y="672" width="3" height="5"/><rect x="1220" y="671" width="3" height="6"/><rect x="1228" y="674" width="3" height="3"/><rect x="1236" y="675" width="3" height="2"/><rect x="1244" y="676" width="3" height="1"/><rect x="1252" y="675" width="3" height="2"/><rect x="1260" y="675" width="3" height="2"/><rect x="1268" y="674" width="3" height="3"/><rect x="1276" y="673" width="3" height="4"/><rect x="1284" y="672" width="3" height="5"/><rect x="1292" y="672" width="3" height="5"/><rect x="1300" y="672" width="3" height="5"/></g>
<polyline points="0.0,712.7 5.0,713.0 13.6,715.7 35.8,715.7 46.0,714.0 58.0,711.0 71.6,707.6 85.3,702.4 95.5,698.2 105.7,692.2 116.0,686.2 126.2,679.4 136.4,670.9 145.0,664.0 153.5,657.3 163.7,651.3 172.2,647.0 180.8,644.5 187.6,644.0 196.0,645.3 204.6,647.9 214.9,649.9 226.8,651.3 238.7,652.6 250.7,652.6 260.9,651.3 271.0,650.0 285.3,648.7 300.7,646.5 312.6,645.8 321.0,644.0 333.0,642.8 343.3,640.2 351.9,639.0 372.3,639.0 380.8,640.2 392.8,643.0 406.4,646.5 415.0,649.2 421.8,651.6 433.7,653.0 445.6,654.7 474.6,654.7 484.9,653.3 500.2,652.6 517.3,651.3 540.0,651.0 548.5,651.6 572.4,652.0 589.5,653.3 598.0,655.5 613.3,657.3 628.7,661.5 645.7,665.4 659.4,670.9 669.6,675.2 679.8,679.4 690.0,684.5 700.3,688.0 714.0,690.8 732.7,690.8 741.2,689.3 749.8,688.5 760.0,687.0 795.8,687.0 799.2,688.0 844.0,688.0 854.3,686.2 869.7,684.0 878.2,682.0 891.9,680.6 902.0,679.4 910.6,677.2 920.8,676.0 926.0,676.5 934.5,677.7 946.4,678.9 956.7,680.3 965.2,681.1 973.7,683.7 982.2,684.2 990.8,688.0 999.3,692.2 1007.8,696.5 1018.0,702.8 1028.3,710.0 1038.5,719.5 1048.7,728.0 1057.3,734.8 1065.8,740.8 1077.7,748.5 1086.8,755.3 1093.6,759.0 1102.0,761.8 1110.7,764.7 1119.2,766.7 1126.0,767.8 1139.7,767.8 1148.2,765.5 1156.7,761.8 1165.3,756.2 1173.8,751.0 1182.3,743.4 1190.8,733.1 1199.4,723.8 1209.6,711.0 1216.4,704.5 1225.0,697.3 1233.5,690.5 1242.0,683.7 1250.5,678.9 1257.4,676.0 1271.0,674.3 1284.6,674.0 1301.7,673.8" fill="none" stroke="#ff0000" stroke-width="2" stroke-linejoin="round"/>
</g>
<g clip-path="url(#cpRsi)">
<line x1="2" y1="814.5" x2="1648" y2="814.5" stroke="#000" stroke-width="1" stroke-dasharray="3 3"/>
<line x1="2" y1="854.5" x2="1648" y2="854.5" stroke="#000" stroke-width="1" stroke-dasharray="3 3"/>
<line x1="2" y1="902.5" x2="1648" y2="902.5" stroke="#000" stroke-width="1" stroke-dasharray="3 3"/>
<polyline points="0.0,876.9 5.5,873.9 13.5,873.9 21.5,878.3 29.5,862.8 37.5,862.8 45.5,858.6 53.5,863.2 61.5,867.3 69.5,855.8 77.5,853.2 85.5,842.6 93.5,842.6 101.5,840.8 109.5,826.0 117.5,820.5 125.5,824.0 133.5,822.9 141.5,822.7 149.5,828.0 157.5,846.0 165.5,842.6 173.5,848.0 181.5,856.8 189.5,856.8 197.5,849.8 205.5,849.8 213.5,842.0 221.5,833.8 229.5,833.8 237.5,841.6 245.5,844.0 253.5,841.8 261.5,841.8 269.5,838.6 277.5,843.0 285.5,838.0 293.5,833.0 301.5,832.7 309.5,830.0 317.5,830.0 325.5,830.0 333.5,831.7 341.5,831.7 349.5,830.7 357.5,852.2 365.5,844.8 373.5,845.8 381.5,845.8 389.5,845.8 397.5,845.8 405.5,857.2 413.5,847.6 421.5,841.2 429.5,840.2 437.5,839.2 445.5,838.6 453.5,838.6 461.5,842.2 469.5,839.2 477.5,835.2 485.5,830.5 493.5,839.8 501.5,840.8 509.5,841.2 517.5,838.8 525.5,838.8 533.5,834.6 541.5,842.8 549.5,839.2 557.5,835.8 565.5,836.2 573.5,840.8 581.5,850.6 589.5,852.6 597.5,858.2 605.5,848.6 613.5,854.8 621.5,852.8 629.5,856.8 637.5,857.2 645.5,863.2 653.5,881.9 661.5,877.9 669.5,877.9 677.5,877.9 685.5,863.2 693.5,856.2 701.5,855.8 709.5,851.8 717.5,851.8 725.5,852.8 733.5,852.8 741.5,857.6 749.5,871.9 757.5,869.7 765.5,871.9 773.5,870.7 781.5,854.2 789.5,849.2 797.5,856.8 805.5,858.6 813.5,861.6 821.5,864.2 829.5,870.3 837.5,866.2 845.5,842.8 853.5,843.2 861.5,845.2 869.5,850.2 877.5,854.8 885.5,854.8 893.5,851.8 901.5,856.8 909.5,856.8 917.5,856.8 925.5,867.3 933.5,855.6 941.5,861.6 949.5,865.8 957.5,865.2 965.5,864.8 973.5,870.3 981.5,876.3 989.5,889.3 997.5,891.9 1005.5,893.9 1013.5,890.9 1021.5,893.9 1029.5,898.7 1037.5,897.9 1045.5,899.7 1053.5,894.9 1061.5,885.9 1069.5,885.9 1077.5,894.3 1085.5,897.3 1093.5,898.7 1101.5,892.9 1109.5,890.3 1117.5,888.7 1125.5,871.7 1133.5,875.9 1141.5,857.8 1149.5,858.2 1157.5,860.2 1165.5,867.9 1173.5,862.6 1181.5,841.2 1189.5,840.2 1197.5,840.2 1205.5,847.8 1213.5,847.8 1221.5,851.2 1229.5,857.8 1237.5,857.2 1245.5,855.2 1253.5,852.8 1261.5,854.8 1269.5,851.8 1277.5,851.8 1285.5,851.8 1293.5,853.2 1301.5,852.8" fill="none" stroke="#1e90ff" stroke-width="2" stroke-linejoin="round"/>
</g>
<g fill="#000"><rect x="0" y="22" width="1649" height="1"/><rect x="1648" y="22" width="1" height="604"/><rect x="0" y="625" width="1649" height="1"/><rect x="0" y="627" width="1649" height="1"/><rect x="1648" y="627" width="1" height="157"/><rect x="0" y="783" width="1649" height="1"/><rect x="0" y="785" width="1649" height="1"/><rect x="1648" y="785" width="1" height="139"/><rect x="0" y="923" width="1649" height="1"/><rect x="1649" y="28" width="2" height="1"/><rect x="1649" y="61" width="2" height="1"/><rect x="1649" y="94" width="2" height="1"/><rect x="1649" y="127" width="2" height="1"/><rect x="1649" y="160" width="2" height="1"/><rect x="1649" y="193" width="2" height="1"/><rect x="1649" y="226" width="2" height="1"/><rect x="1649" y="259" width="2" height="1"/><rect x="1649" y="292" width="2" height="1"/><rect x="1649" y="325" width="2" height="1"/><rect x="1649" y="358" width="2" height="1"/><rect x="1649" y="391" width="2" height="1"/><rect x="1649" y="424" width="2" height="1"/><rect x="1649" y="457" width="2" height="1"/><rect x="1649" y="490" width="2" height="1"/><rect x="1649" y="523" width="2" height="1"/><rect x="1649" y="556" width="2" height="1"/><rect x="1649" y="589" width="2" height="1"/><rect x="1649" y="622" width="2" height="1"/><rect x="1649" y="629" width="1" height="1"/><rect x="1649" y="677" width="2" height="1"/><rect x="1649" y="782" width="1" height="1"/><rect x="1649" y="787" width="1" height="1"/><rect x="1649" y="922" width="1" height="1"/><rect x="53" y="924" width="1" height="3"/><rect x="117" y="924" width="1" height="3"/><rect x="181" y="924" width="1" height="3"/><rect x="245" y="924" width="1" height="3"/><rect x="309" y="924" width="1" height="3"/><rect x="373" y="924" width="1" height="3"/><rect x="437" y="924" width="1" height="3"/><rect x="501" y="924" width="1" height="3"/><rect x="565" y="924" width="1" height="3"/><rect x="629" y="924" width="1" height="3"/><rect x="693" y="924" width="1" height="3"/><rect x="757" y="924" width="1" height="3"/><rect x="821" y="924" width="1" height="3"/><rect x="885" y="924" width="1" height="3"/><rect x="949" y="924" width="1" height="3"/><rect x="1013" y="924" width="1" height="3"/><rect x="1077" y="924" width="1" height="3"/><rect x="1141" y="924" width="1" height="3"/><rect x="1205" y="924" width="1" height="3"/><rect x="1269" y="924" width="1" height="3"/><rect x="1333" y="924" width="1" height="3"/></g>
<g font-family="Liberation Sans, sans-serif" font-size="10" stroke="#000" stroke-width="0.12" shape-rendering="auto"><text transform="translate(1654.10 32) scale(0.918 1)">1.26970</text><text transform="translate(1654.10 65) scale(0.918 1)">1.26540</text><text transform="translate(1654.10 98) scale(0.918 1)">1.26100</text><text transform="translate(1654.10 131) scale(0.918 1)">1.25670</text><text transform="translate(1654.10 164) scale(0.918 1)">1.25240</text><text transform="translate(1654.10 197) scale(0.918 1)">1.24800</text><text transform="translate(1654.10 230) scale(0.918 1)">1.24370</text><text transform="translate(1654.10 263) scale(0.918 1)">1.23940</text><text transform="translate(1654.10 296) scale(0.918 1)">1.23500</text><text transform="translate(1654.10 329) scale(0.918 1)">1.23070</text><text transform="translate(1654.10 362) scale(0.918 1)">1.22640</text><text transform="translate(1654.10 395) scale(0.918 1)">1.22200</text><text transform="translate(1654.10 428) scale(0.918 1)">1.21770</text><text transform="translate(1654.10 461) scale(0.918 1)">1.21340</text><text transform="translate(1654.10 494) scale(0.918 1)">1.20900</text><text transform="translate(1654.10 527) scale(0.918 1)">1.20470</text><text transform="translate(1654.10 560) scale(0.918 1)">1.20040</text><text transform="translate(1654.10 593) scale(0.918 1)">1.19600</text><text transform="translate(1654.10 626) scale(0.918 1)">1.19170</text><text transform="translate(1651.90 638) scale(0.918 1)">0.006114</text><text transform="translate(1651.90 681) scale(0.918 1)">0.00</text><text transform="translate(1651.90 780) scale(0.918 1)">-0.013241</text><text transform="translate(1651.90 796) scale(0.918 1)">100</text><text transform="translate(1651.10 818) scale(0.918 1)">80</text><text transform="translate(1651.10 858) scale(0.918 1)">50</text><text transform="translate(1651.10 906) scale(0.918 1)">15</text><text transform="translate(1651.90 920) scale(0.918 1)">0</text><rect x="1650" y="276" width="41" height="11" fill="#ff0000"/><text transform="translate(1654.10 285) scale(0.918 1)" fill="#fff" stroke="#fff">1.23635</text><rect x="1650" y="311" width="41" height="11" fill="#ff0000"/><text transform="translate(1654.10 320) scale(0.918 1)" fill="#fff" stroke="#fff">1.23177</text><rect x="1650" y="350" width="41" height="11" fill="#ffa500"/><text transform="translate(1654.10 359) scale(0.918 1)" fill="#fff" stroke="#fff">1.22666</text><rect x="1650" y="365" width="41" height="11" fill="#000000"/><text transform="translate(1654.10 374) scale(0.918 1)" fill="#fff" stroke="#fff">1.22475</text><rect x="1650" y="402" width="41" height="11" fill="#0000ff"/><text transform="translate(1654.10 411) scale(0.918 1)" fill="#fff" stroke="#fff">1.21984</text><rect x="1650" y="437" width="41" height="11" fill="#0000ff"/><text transform="translate(1654.10 446) scale(0.918 1)" fill="#fff" stroke="#fff">1.21525</text><text transform="translate(-11.80 936) scale(0.918 1)">13</text><text transform="translate(1.30 936) scale(0.96 1)">May</text><text transform="translate(23.30 936) scale(0.918 1)">2022</text><text transform="translate(52.20 936) scale(0.918 1)">16</text><text transform="translate(65.30 936) scale(0.96 1)">May</text><text transform="translate(87.30 936) scale(0.918 1)">00:00</text><text transform="translate(116.20 936) scale(0.918 1)">17</text><text transform="translate(129.30 936) scale(0.96 1)">May</text><text transform="translate(151.30 936) scale(0.918 1)">08:00</text><text transform="translate(180.20 936) scale(0.918 1)">18</text><text transform="translate(193.30 936) scale(0.96 1)">May</text><text transform="translate(215.30 936) scale(0.918 1)">16:00</text><text transform="translate(244.20 936) scale(0.918 1)">20</text><text transform="translate(257.30 936) scale(0.96 1)">May</text><text transform="translate(279.30 936) scale(0.918 1)">00:00</text><text transform="translate(308.20 936) scale(0.918 1)">23</text><text transform="translate(321.30 936) scale(0.96 1)">May</text><text transform="translate(343.30 936) scale(0.918 1)">08:00</text><text transform="translate(372.20 936) scale(0.918 1)">24</text><text transform="translate(385.30 936) scale(0.96 1)">May</text><text transform="translate(407.30 936) scale(0.918 1)">16:00</text><text transform="translate(436.20 936) scale(0.918 1)">26</text><text transform="translate(449.30 936) scale(0.96 1)">May</text><text transform="translate(471.30 936) scale(0.918 1)">00:00</text><text transform="translate(500.20 936) scale(0.918 1)">27</text><text transform="translate(513.30 936) scale(0.96 1)">May</text><text transform="translate(535.30 936) scale(0.918 1)">08:00</text><text transform="translate(564.20 936) scale(0.918 1)">30</text><text transform="translate(577.30 936) scale(0.96 1)">May</text><text transform="translate(599.30 936) scale(0.918 1)">16:00</text><text transform="translate(628.20 936) scale(0.918 1)">1</text><text transform="translate(635.90 936) scale(0.87 1)">Jun</text><text transform="translate(653.10 936) scale(0.918 1)">00:00</text><text transform="translate(692.20 936) scale(0.918 1)">2</text><text transform="translate(699.90 936) scale(0.87 1)">Jun</text><text transform="translate(717.10 936) scale(0.918 1)">08:00</text><text transform="translate(756.20 936) scale(0.918 1)">3</text><text transform="translate(763.90 936) scale(0.87 1)">Jun</text><text transform="translate(781.10 936) scale(0.918 1)">16:00</text><text transform="translate(820.20 936) scale(0.918 1)">7</text><text transform="translate(827.90 936) scale(0.87 1)">Jun</text><text transform="translate(845.10 936) scale(0.918 1)">00:00</text><text transform="translate(884.20 936) scale(0.918 1)">8</text><text transform="translate(891.90 936) scale(0.87 1)">Jun</text><text transform="translate(909.10 936) scale(0.918 1)">08:00</text><text transform="translate(948.20 936) scale(0.918 1)">9</text><text transform="translate(955.90 936) scale(0.87 1)">Jun</text><text transform="translate(973.10 936) scale(0.918 1)">16:00</text><text transform="translate(1012.20 936) scale(0.918 1)">13</text><text transform="translate(1024.90 936) scale(0.87 1)">Jun</text><text transform="translate(1042.20 936) scale(0.918 1)">00:00</text><text transform="translate(1076.20 936) scale(0.918 1)">14</text><text transform="translate(1088.90 936) scale(0.87 1)">Jun</text><text transform="translate(1106.20 936) scale(0.918 1)">08:00</text><text transform="translate(1140.20 936) scale(0.918 1)">15</text><text transform="translate(1152.90 936) scale(0.87 1)">Jun</text><text transform="translate(1170.20 936) scale(0.918 1)">16:00</text><text transform="translate(1204.20 936) scale(0.918 1)">17</text><text transform="translate(1216.90 936) scale(0.87 1)">Jun</text><text transform="translate(1234.20 936) scale(0.918 1)">00:00</text><text transform="translate(1268.20 936) scale(0.918 1)">20</text><text transform="translate(1280.90 936) scale(0.87 1)">Jun</text><text transform="translate(1298.20 936) scale(0.918 1)">08:00</text><text transform="translate(3.90 34) scale(0.934 1)">GBPUSD-,H4</text><text transform="translate(67.10 34) scale(0.918 1)">1.22421</text><text transform="translate(102.90 34) scale(0.918 1)">1.22477</text><text transform="translate(139.30 34) scale(0.918 1)">1.22421</text><text transform="translate(174.90 34) scale(0.918 1)">1.22475</text><text transform="translate(-6.30 640) scale(0.94 1)">MACD(12,26,9)</text><text transform="translate(61.80 640) scale(0.918 1)">0.000630</text><text transform="translate(103.10 640) scale(0.918 1)">0.000429</text><text transform="translate(-7.50 798) scale(0.955 1)">RSI(14)</text><text transform="translate(27.70 798) scale(0.918 1)">51.3739</text></g>
<g id="toolbar" shape-rendering="auto">
<rect x="0" y="0" width="1695" height="18" fill="#f0f0f0"/>
<rect x="0" y="18" width="1695" height="1" fill="#b4b4b4"/>
<rect x="0" y="19" width="1695" height="1" fill="#6e6e6e"/>
<rect x="284" y="0" width="24" height="16" fill="#f8f8f8"/><rect x="283" y="0" width="1" height="16" fill="#a0a0a0"/><rect x="283" y="16" width="25" height="1" fill="#ffffff"/><rect x="307" y="0" width="1" height="17" fill="#ffffff"/>
<rect x="436" y="0" width="25" height="16" fill="#f8f8f8"/><rect x="435" y="0" width="1" height="16" fill="#a0a0a0"/><rect x="435" y="16" width="26" height="1" fill="#ffffff"/><rect x="460" y="0" width="1" height="17" fill="#ffffff"/>
<rect x="464" y="0" width="25" height="16" fill="#f8f8f8"/><rect x="463" y="0" width="1" height="16" fill="#a0a0a0"/><rect x="463" y="16" width="26" height="1" fill="#ffffff"/><rect x="488" y="0" width="1" height="17" fill="#ffffff"/>
<rect x="624" y="0" width="25" height="16" fill="#f8f8f8"/><rect x="623" y="0" width="1" height="16" fill="#a0a0a0"/><rect x="623" y="16" width="26" height="1" fill="#ffffff"/><rect x="648" y="0" width="1" height="17" fill="#ffffff"/>
<rect x="1070" y="0" width="25" height="16" fill="#f8f8f8"/><rect x="1069" y="0" width="1" height="16" fill="#a0a0a0"/><rect x="1069" y="16" width="26" height="1" fill="#ffffff"/><rect x="1094" y="0" width="1" height="17" fill="#ffffff"/>
<circle cx="-0.7" cy="13.7" r="2.5" fill="#c89216"/>
<rect x="9" y="0" width="1" height="16" fill="#a0a0a0"/>
<polygon points="16.5,11.1 18,12.6 16.5,14.1 15,12.6" fill="#fff" stroke="#000" stroke-width="0.95"/>
<path d="M19.5 -3H27.5L30.5 0V11.5H19.5Z" fill="#fff" stroke="#8a8a8a" stroke-width="1"/>
<rect x="21" y="-1" width="2.6" height="2.5" fill="#9a9a9a"/><path d="M21.2 4.5H26.4M21.2 6.5H26M21.2 8.5H24" stroke="#808080" stroke-width="1"/>
<defs><linearGradient id="gPlus" x1="0" y1="0" x2="1" y2="1"><stop offset="0" stop-color="#8cff8c"/><stop offset="0.5" stop-color="#1fe01f"/><stop offset="1" stop-color="#08c008"/></linearGradient></defs><path d="M27.6 4.5H30.6V9.2H34.7V11.3H30.6V15.3H27.6V11.3H23.6V9.2H27.6Z" fill="url(#gPlus)" stroke="#0a8c0a" stroke-width="1"/>
<text x="37.8" y="9.7" textLength="36.4" lengthAdjust="spacingAndGlyphs" font-family="Liberation Sans, Noto Sans CJK SC, sans-serif" font-size="12" font-weight="500" fill="#000">新订单</text>
<defs><linearGradient id="gGold" x1="0" y1="0" x2="1" y2="1"><stop offset="0" stop-color="#f6d050"/><stop offset="1" stop-color="#b87c0a"/></linearGradient></defs>
<path d="M86 7.8L94 11L101.8 5.2L102 8L94.3 13.8L86 9.6Z" fill="#b47c10" stroke="#8a5a06" stroke-width="0.8"/>
<path d="M87 9.2L94.2 12.5L101.4 7.2" stroke="#f4e4a8" stroke-width="0.8" fill="none"/>
<defs><linearGradient id="gGold2" x1="0" y1="0" x2="0.4" y2="1"><stop offset="0" stop-color="#e8b418"/><stop offset="0.45" stop-color="#fbe470"/><stop offset="1" stop-color="#e6b020"/></linearGradient></defs>
<path d="M90.5 -3L93.5 -0.5L101.8 5.2L94 11L86 7.8L89.5 2Z" fill="url(#gGold2)" stroke="#b88410" stroke-width="0.8"/>
<defs><linearGradient id="gCl" x1="0" y1="0" x2="0" y2="1"><stop offset="0" stop-color="#ffffff"/><stop offset="1" stop-color="#c4d0e6"/></linearGradient></defs>
<rect x="116.5" y="-4" width="10.5" height="11" fill="#2a98f4" stroke="#1a78d8" stroke-width="0.8"/>
<rect x="118.6" y="-2" width="1" height="8" fill="#7cc4fb"/>
<rect x="121" y="2" width="5" height="1.5" fill="#eaf6ff"/>
<path d="M116.8 13.3C113.4 13.3 113.6 8.6 116.6 8.7C117.2 6.6 119.2 6.6 120 7.6C121 5.4 124.6 5.6 125.2 7.8C127.6 6.8 129.4 8.6 128.6 10C130.8 10.4 130.4 13.3 128 13.3Z" fill="url(#gCl)" stroke="#4a6aa8" stroke-width="1"/>
<defs><linearGradient id="gRad" x1="0" y1="0" x2="1" y2="1"><stop offset="0" stop-color="#cfe6cf"/><stop offset="1" stop-color="#4f9a55"/></linearGradient></defs>
<path d="M151 -2.2A7.8 7.8 0 0 1 150.6 13.3L150.6 9.5A4 4 0 0 0 151 1.6Z" fill="url(#gRad)" stroke="#4c8088" stroke-width="0.6"/>
<path d="M149 -1.9A7.5 7.5 0 0 0 148.4 12.8" fill="none" stroke="#6f92da" stroke-width="1.1"/>
<path d="M149.2 1.4A4.2 4.2 0 0 0 148.6 9.4" fill="none" stroke="#5078d0" stroke-width="1.1"/>
<circle cx="150" cy="5.5" r="1.7" fill="#2450c4"/>
<rect x="149.6" y="6.2" width="1.4" height="7.3" fill="#22a022"/>
<defs><linearGradient id="gYel" x1="0" y1="0" x2="1" y2="1"><stop offset="0" stop-color="#fff690"/><stop offset="1" stop-color="#efbc18"/></linearGradient></defs>
<path d="M169.6 4.5L184.6 4.5L183 9L176.6 14.2L173.4 12.4Z" fill="url(#gYel)" stroke="#c8a010" stroke-width="0.9"/>
<ellipse cx="177" cy="2.4" rx="8" ry="3" fill="#56b2e2" stroke="#2f8cc6" stroke-width="0.8"/>
<ellipse cx="177.4" cy="-0.6" rx="4.8" ry="3" fill="#7cc6ee"/>
<circle cx="181.5" cy="9.7" r="4.3" fill="#e23412" stroke="#b82008" stroke-width="0.7"/>
<rect x="180.1" y="8.3" width="2.9" height="2.9" fill="#fff"/>
<text x="190.4" y="9.7" textLength="47.2" lengthAdjust="spacingAndGlyphs" font-family="Liberation Sans, Noto Sans CJK SC, sans-serif" font-size="12" font-weight="500" fill="#000">自动交易</text>
<rect x="245" y="0" width="1" height="18" fill="#8c8c8c"/><rect x="246" y="0" width="1" height="18" fill="#ffffff"/>
<rect x="249" y="0" width="3" height="1" fill="#a8a8a8"/><rect x="249" y="2" width="3" height="1" fill="#a8a8a8"/><rect x="249" y="4" width="3" height="1" fill="#a8a8a8"/><rect x="249" y="6" width="3" height="1" fill="#a8a8a8"/><rect x="249" y="8" width="3" height="1" fill="#a8a8a8"/><rect x="249" y="10" width="3" height="1" fill="#a8a8a8"/><rect x="249" y="12" width="3" height="1" fill="#a8a8a8"/><rect x="249" y="14" width="3" height="1" fill="#a8a8a8"/>
<g shape-rendering="crispEdges"><rect x="263" y="0" width="1" height="14" fill="#5c5c5c"/><rect x="262" y="1" width="3" height="1" fill="#8c8c8c"/><rect x="261" y="11" width="13" height="1" fill="#5c5c5c"/></g><polygon points="272.3,9.9 274.8,11.5 272.3,13.1" fill="#5c5c5c"/>
<path d="M267 8.6H269.6M269.6 1.4V9.8M269.6 2.4H272" stroke="#18a018" stroke-width="1.2" fill="none"/>
<g shape-rendering="crispEdges"><rect x="291" y="0" width="1" height="14" fill="#5c5c5c"/><rect x="290" y="1" width="3" height="1" fill="#8c8c8c"/><rect x="289" y="11" width="13" height="1" fill="#5c5c5c"/></g><polygon points="300.3,9.9 302.8,11.5 300.3,13.1" fill="#5c5c5c"/>
<rect x="297" y="-2" width="1.2" height="11.8" fill="#0f8f0f"/><rect x="295.6" y="-1" width="3.9" height="8.4" fill="#4ae84a" stroke="#0f8f0f" stroke-width="1"/>
<g shape-rendering="crispEdges"><rect x="319" y="0" width="1" height="14" fill="#5c5c5c"/><rect x="318" y="1" width="3" height="1" fill="#8c8c8c"/><rect x="317" y="11" width="13" height="1" fill="#5c5c5c"/></g><polygon points="328.3,9.9 330.8,11.5 328.3,13.1" fill="#5c5c5c"/>
<path d="M318.1 8.8C320.5 7.4 322.3 3.3 324.4 3.4S327.6 6.2 329.8 7.2" stroke="#2a9a3a" stroke-width="1.2" fill="none"/>
<rect x="340" y="0" width="1" height="16" fill="#a0a0a0"/>
<path d="M358.70000000000005 7.4L364.3 13" stroke="#a87808" stroke-width="3.8" stroke-linecap="butt"/>
<path d="M358.70000000000005 7.4L364.0 12.7" stroke="#f0cc30" stroke-width="2.2" stroke-linecap="butt"/>
<circle cx="355.1" cy="3.7" r="5.6" fill="#d2ecfc" stroke="#2a78c8" stroke-width="1.2"/>
<path d="M351.90000000000003 3.7H358.3" stroke="#3a86b8" stroke-width="1.9"/>
<path d="M355.1 0.5V6.9" stroke="#3a86b8" stroke-width="1.9"/>
<path d="M386.6 7.4L392.2 13" stroke="#a87808" stroke-width="3.8" stroke-linecap="butt"/>
<path d="M386.6 7.4L391.9 12.7" stroke="#f0cc30" stroke-width="2.2" stroke-linecap="butt"/>
<circle cx="383.0" cy="3.7" r="5.6" fill="#d2ecfc" stroke="#2a78c8" stroke-width="1.2"/>
<path d="M379.8 3.7H386.2" stroke="#3a86b8" stroke-width="1.9"/>
<rect x="405.2" y="-2" width="7.8" height="8" fill="#3c9c22"/><rect x="413" y="-2" width="8" height="8" fill="#2f62d8"/>
<rect x="405.2" y="6" width="7.8" height="7.9" fill="#2f62d8"/><rect x="413" y="6" width="8" height="7.9" fill="#3c9c22"/>
<rect x="405.2" y="6" width="7.8" height="1.6" fill="#1a3cb0"/><rect x="413" y="6" width="8" height="1.6" fill="#2a7c14"/>
<rect x="406.2" y="1.5" width="5.9" height="3.4" fill="#fff"/><rect x="414" y="1.5" width="6" height="3.4" fill="#fff"/>
<rect x="406.2" y="9.2" width="5.9" height="3.5" fill="#fff"/><rect x="414" y="9.2" width="6" height="3.5" fill="#fff"/>
<rect x="407" y="2.4" width="4.2" height="0.9" fill="#8cd070"/><rect x="415" y="2.4" width="4" height="0.9" fill="#7aa0f0"/>
<rect x="407" y="10.1" width="4.2" height="0.9" fill="#7aa0f0"/><rect x="415" y="10.1" width="4" height="0.9" fill="#8cd070"/>
<rect x="407.6" y="4.2" width="3" height="0.8" fill="#3c9c22"/><rect x="415.6" y="4.2" width="2.8" height="0.8" fill="#2f62d8"/>
<rect x="407.6" y="12" width="3" height="0.8" fill="#2f62d8"/><rect x="415.6" y="12" width="2.8" height="0.8" fill="#3c9c22"/>
<rect x="430" y="0" width="1" height="16" fill="#a0a0a0"/>
<g shape-rendering="crispEdges"><rect x="443" y="0" width="1" height="14" fill="#5c5c5c"/><rect x="442" y="1" width="3" height="1" fill="#8c8c8c"/><rect x="441" y="11" width="13" height="1" fill="#5c5c5c"/></g><polygon points="452.3,9.9 454.8,11.5 452.3,13.1" fill="#5c5c5c"/>
<polygon points="448.6,2.6 448.6,8.4 451.8,5.5" fill="#7cf07c" stroke="#12a012" stroke-width="1.1"/>
<g shape-rendering="crispEdges"><rect x="471" y="0" width="1" height="14" fill="#5c5c5c"/><rect x="470" y="1" width="3" height="1" fill="#8c8c8c"/><rect x="469" y="11" width="13" height="1" fill="#5c5c5c"/></g><polygon points="480.3,9.9 482.8,11.5 480.3,13.1" fill="#5c5c5c"/>
<rect x="477" y="-1" width="1" height="10.5" fill="#1a6aa0" shape-rendering="crispEdges"/>
<path d="M478.4 5.5H483M478.6 5.5L481 3.2M478.6 5.5L481 7.8" stroke="#d8480c" stroke-width="1.3" fill="none"/>
<rect x="492" y="0" width="1" height="16" fill="#a0a0a0"/>
<path d="M502.5 -3H509.5L512.5 0V11.5H502.5Z" fill="#fff" stroke="#8a8a8a" stroke-width="1"/>
<path d="M505.5 1V6.5M505.5 3.2H507.5M505.5 1C505.5 0 506.5 -0.2 507.5 0" stroke="#5a4a30" stroke-width="1" fill="none"/>
<path d="M510.7 4.7H513.6V8.6H517.5V10.8H513.6V15.2H510.7V10.8H506.8V8.6H510.7Z" fill="url(#gPlus)" stroke="#0a8c0a" stroke-width="1"/>
<polygon points="523.7,5 529.4000000000001,5 526.5500000000001,8.1" fill="#000"/>
<defs><linearGradient id="gClk" x1="0" y1="0" x2="0" y2="1"><stop offset="0" stop-color="#2f84ea"/><stop offset="1" stop-color="#0a3fa8"/></linearGradient></defs>
<circle cx="548" cy="5.7" r="8" fill="url(#gClk)"/><circle cx="548" cy="5.7" r="5.5" fill="#fdfdfd"/>
<path d="M548 1.8V6H551" stroke="#404040" stroke-width="1.2" fill="none"/><path d="M548 0.6V1.4M548 10V10.8M543 5.7H543.8M552.2 5.7H553" stroke="#909090" stroke-width="0.8"/>
<polygon points="562.6,5 568.3000000000001,5 565.45,8.1" fill="#000"/>
<rect x="579.5" y="-3" width="15.5" height="15" fill="#fff" stroke="#3a78c8" stroke-width="1"/>
<rect x="580" y="-3" width="14.5" height="3.5" fill="#5a9ae0"/><rect x="580" y="6" width="14.5" height="1" fill="#8ab0e0"/>
<path d="M581.5 4.5L584 4L586 3L588 4L590.5 3.5L593 3" stroke="#a82408" stroke-width="1.4" fill="none"/>
<path d="M581.5 10.5L584 9.5L586 10L589 8.5L591 9L593 10.5" stroke="#128a22" stroke-width="1.4" fill="none"/>
<polygon points="601.5,5 607.2,5 604.35,8.1" fill="#000"/>
<rect x="613" y="0" width="1" height="18" fill="#8c8c8c"/><rect x="614" y="0" width="1" height="18" fill="#ffffff"/>
<rect x="617" y="0" width="3" height="1" fill="#a8a8a8"/><rect x="617" y="2" width="3" height="1" fill="#a8a8a8"/><rect x="617" y="4" width="3" height="1" fill="#a8a8a8"/><rect x="617" y="6" width="3" height="1" fill="#a8a8a8"/><rect x="617" y="8" width="3" height="1" fill="#a8a8a8"/><rect x="617" y="10" width="3" height="1" fill="#a8a8a8"/><rect x="617" y="12" width="3" height="1" fill="#a8a8a8"/><rect x="617" y="14" width="3" height="1" fill="#a8a8a8"/>
<polygon points="631,-3 631,9.9 633.6,7.7 636.2,12.9 638.1,12.1 635.7,6.9 639.4,6.7" fill="#484848"/>
<path d="M663.5 0V5M663.5 8V14M656 6.5H662M665 6.5H671" stroke="#484848" stroke-width="1"/>
<rect x="680" y="0" width="1" height="16" fill="#a0a0a0"/>
<rect x="697" y="-1" width="1" height="14" fill="#484848"/>
<rect x="720" y="6" width="12" height="1" fill="#484848"/>
<path d="M748 13L760 1" stroke="#484848" stroke-width="1.1"/>
<path d="M774.5 11L785 -1M776.8 12L787.5 0M779.2 12.6L789.5 1M779 3.5H788M776 7.5H785" stroke="#505050" stroke-width="1"/>
<text x="785" y="14.4" font-family="Liberation Sans, sans-serif" font-size="6.5" font-weight="bold" fill="#303030">E</text>
<path d="M803 2.5H817M803 6.5H817M803 10.5H812" stroke="#484848" stroke-width="1" stroke-dasharray="1 1"/>
<text x="812.6" y="14.4" font-family="Liberation Sans, sans-serif" font-size="6.5" font-weight="bold" fill="#303030">F</text>
<text x="833.2" y="11" font-family="Liberation Sans, sans-serif" font-size="12.5" font-weight="bold" fill="#505050">A</text>
<rect x="860.5" y="-1" width="11" height="13.5" fill="none" stroke="#484848" stroke-width="1" stroke-dasharray="1 1"/>
<text x="861.8" y="11" font-family="Liberation Sans, sans-serif" font-size="11.5" font-weight="bold" fill="#505050">T</text>
<polygon points="890.5,-1 893.5,2 890.5,5 887.5,2" fill="#484848"/><polygon points="898,8 901.5,11 898,14 894.5,11" fill="#484848"/>
<path d="M890 6.5L893.5 9.5L898.5 3.5" stroke="#484848" stroke-width="1.6" fill="none"/>
<polygon points="908,5 913.7,5 910.85,8.1" fill="#000"/>
<rect x="919" y="0" width="1" height="18" fill="#8c8c8c"/><rect x="920" y="0" width="1" height="18" fill="#ffffff"/>
<rect x="923" y="0" width="3" height="1" fill="#a8a8a8"/><rect x="923" y="2" width="3" height="1" fill="#a8a8a8"/><rect x="923" y="4" width="3" height="1" fill="#a8a8a8"/><rect x="923" y="6" width="3" height="1" fill="#a8a8a8"/><rect x="923" y="8" width="3" height="1" fill="#a8a8a8"/><rect x="923" y="10" width="3" height="1" fill="#a8a8a8"/><rect x="923" y="12" width="3" height="1" fill="#a8a8a8"/><rect x="923" y="14" width="3" height="1" fill="#a8a8a8"/>
<g font-family="Liberation Sans, sans-serif" font-size="10" fill="#3c3c3c" stroke="#3c3c3c" stroke-width="0.1"><text transform="translate(934.6 10) scale(.918 1)">M1</text><text transform="translate(962.7 10) scale(.918 1)">M5</text><text transform="translate(988.6 10) scale(.918 1)">M15</text><text transform="translate(1016.7 10) scale(.918 1)">M30</text><text transform="translate(1047.7 10) scale(.918 1)">H1</text><text transform="translate(1074.6 10) scale(.918 1)">H4</text><text transform="translate(1103.9 10) scale(.918 1)">D1</text><text transform="translate(1131.4 10) scale(.918 1)">W1</text><text transform="translate(1157.9 10) scale(.918 1)">MN</text></g>
<rect x="1180" y="0" width="1" height="18" fill="#a0a0a0"/>
<path d="M1647.8 6.3L1643.2 10.8" stroke="#1f5fd0" stroke-width="2.6" stroke-linecap="round"/>
<circle cx="1650.6" cy="3.2" r="3.7" fill="#fff" stroke="#2a66d8" stroke-width="1.5"/>
<path d="M1668.2 12.2L1670.3 14.8L1672.5 12.6Z" fill="#d8d8e0" stroke="#a8a8a8" stroke-width="0.8"/>
<ellipse cx="1672.8" cy="8" rx="5.8" ry="4.8" fill="#e6e6ee" stroke="#b0b0b0" stroke-width="1"/>
<defs><linearGradient id="gRed" x1="0" y1="0" x2="0" y2="1"><stop offset="0" stop-color="#ea4a2a"/><stop offset="1" stop-color="#d42408"/></linearGradient></defs>
<circle cx="1681.6" cy="3.4" r="8" fill="url(#gRed)"/>
<text x="1680.3" y="7.8" text-anchor="middle" font-family="Liberation Serif, serif" font-size="12.5" font-weight="bold" fill="#fff">1</text>
</g>
</svg>
</body></html>
